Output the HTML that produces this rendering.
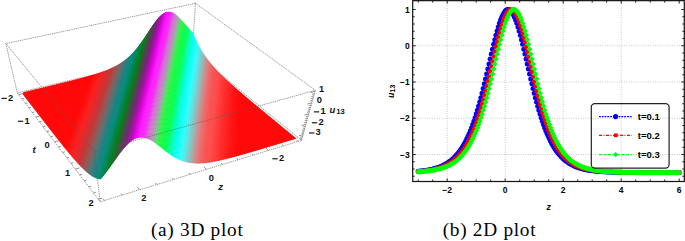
<!DOCTYPE html>
<html><head><meta charset="utf-8"><style>
html,body{margin:0;padding:0;background:#fff;}
body{width:685px;height:241px;overflow:hidden;}
svg{display:block;}
</style></head><body>
<svg width="685" height="241" viewBox="0 0 685 241">
<g><line x1="195.42" y1="3.29" x2="192.43" y2="51.17" stroke="#5a5a5a" stroke-width="0.6" stroke-dasharray="1.4 0.8"/>
<line x1="17.31" y1="92.91" x2="192.43" y2="51.17" stroke="#5a5a5a" stroke-width="0.6" stroke-dasharray="1.4 0.8"/>
<line x1="301.60" y1="140.33" x2="192.43" y2="51.17" stroke="#5a5a5a" stroke-width="0.6" stroke-dasharray="1.4 0.8"/></g>
<g><path d="M24.11,92.38L23.34,92.56L22.77,93.71L23.19,94.25Z" fill="#ff0000" stroke="#ff0000" stroke-width="0.5"/>
<path d="M24.88,92.19L24.11,92.38L23.19,94.25L23.60,94.79Z" fill="#ff0000" stroke="#ff0000" stroke-width="0.5"/>
<path d="M25.64,92.01L24.88,92.19L23.60,94.79L24.02,95.33Z" fill="#ff0000" stroke="#ff0000" stroke-width="0.5"/>
<path d="M26.41,91.83L25.64,92.01L24.02,95.33L24.44,95.88Z" fill="#ff0000" stroke="#ff0000" stroke-width="0.5"/>
<path d="M27.18,91.64L26.41,91.83L24.44,95.88L24.86,96.42Z" fill="#ff0000" stroke="#ff0000" stroke-width="0.5"/>
<path d="M27.94,91.46L27.18,91.64L24.86,96.42L25.28,96.96Z" fill="#ff0000" stroke="#ff0000" stroke-width="0.5"/>
<path d="M28.70,91.28L27.94,91.46L25.28,96.96L25.70,97.51Z" fill="#ff0000" stroke="#ff0000" stroke-width="0.5"/>
<path d="M29.47,91.09L28.70,91.28L25.70,97.51L26.12,98.06Z" fill="#ff0000" stroke="#ff0000" stroke-width="0.5"/>
<path d="M30.23,90.91L29.47,91.09L26.12,98.06L26.54,98.60Z" fill="#ff0000" stroke="#ff0000" stroke-width="0.5"/>
<path d="M30.99,90.73L30.23,90.91L26.54,98.60L26.97,99.15Z" fill="#ff0000" stroke="#ff0000" stroke-width="0.5"/>
<path d="M31.76,90.54L30.99,90.73L26.97,99.15L27.39,99.70Z" fill="#ff0000" stroke="#ff0000" stroke-width="0.5"/>
<path d="M32.52,90.36L31.76,90.54L27.39,99.70L27.81,100.26Z" fill="#ff0000" stroke="#ff0000" stroke-width="0.5"/>
<path d="M33.28,90.18L32.52,90.36L27.81,100.26L28.24,100.81Z" fill="#ff0000" stroke="#ff0000" stroke-width="0.5"/>
<path d="M34.04,90.00L33.28,90.18L28.24,100.81L28.67,101.36Z" fill="#ff0000" stroke="#ff0000" stroke-width="0.5"/>
<path d="M34.80,89.81L34.04,90.00L28.67,101.36L29.10,101.92Z" fill="#ff0000" stroke="#ff0000" stroke-width="0.5"/>
<path d="M35.56,89.63L34.80,89.81L29.10,101.92L29.53,102.47Z" fill="#ff0000" stroke="#ff0000" stroke-width="0.5"/>
<path d="M36.32,89.45L35.56,89.63L29.53,102.47L29.96,103.03Z" fill="#ff0000" stroke="#ff0000" stroke-width="0.5"/>
<path d="M37.07,89.27L36.32,89.45L29.96,103.03L30.39,103.59Z" fill="#ff0000" stroke="#ff0000" stroke-width="0.5"/>
<path d="M37.83,89.09L37.07,89.27L30.39,103.59L30.82,104.15Z" fill="#ff0000" stroke="#ff0000" stroke-width="0.5"/>
<path d="M38.59,88.90L37.83,89.09L30.82,104.15L31.25,104.71Z" fill="#ff0000" stroke="#ff0000" stroke-width="0.5"/>
<path d="M39.34,88.72L38.59,88.90L31.25,104.71L31.68,105.28Z" fill="#ff0000" stroke="#ff0000" stroke-width="0.5"/>
<path d="M40.10,88.54L39.34,88.72L31.68,105.28L32.12,105.84Z" fill="#ff0000" stroke="#ff0000" stroke-width="0.5"/>
<path d="M40.85,88.36L40.10,88.54L32.12,105.84L32.56,106.40Z" fill="#ff0000" stroke="#ff0000" stroke-width="0.5"/>
<path d="M41.61,88.18L40.85,88.36L32.56,106.40L32.99,106.97Z" fill="#ff0000" stroke="#ff0000" stroke-width="0.5"/>
<path d="M42.36,88.00L41.61,88.18L32.99,106.97L33.43,107.54Z" fill="#ff0000" stroke="#ff0000" stroke-width="0.5"/>
<path d="M43.12,87.82L42.36,88.00L33.43,107.54L33.87,108.11Z" fill="#ff0000" stroke="#ff0000" stroke-width="0.5"/>
<path d="M43.87,87.63L43.12,87.82L33.87,108.11L34.31,108.68Z" fill="#ff0000" stroke="#ff0000" stroke-width="0.5"/>
<path d="M44.62,87.45L43.87,87.63L34.31,108.68L34.75,109.25Z" fill="#ff0000" stroke="#ff0000" stroke-width="0.5"/>
<path d="M45.37,87.27L44.62,87.45L34.75,109.25L35.19,109.82Z" fill="#ff0000" stroke="#ff0000" stroke-width="0.5"/>
<path d="M46.12,87.09L45.37,87.27L35.19,109.82L35.63,110.39Z" fill="#ff0000" stroke="#ff0000" stroke-width="0.5"/>
<path d="M46.87,86.91L46.12,87.09L35.63,110.39L36.08,110.97Z" fill="#ff0000" stroke="#ff0000" stroke-width="0.5"/>
<path d="M47.62,86.73L46.87,86.91L36.08,110.97L36.52,111.54Z" fill="#ff0000" stroke="#ff0000" stroke-width="0.5"/>
<path d="M48.37,86.55L47.62,86.73L36.52,111.54L36.97,112.12Z" fill="#ff0000" stroke="#ff0000" stroke-width="0.5"/>
<path d="M49.12,86.37L48.37,86.55L36.97,112.12L37.41,112.70Z" fill="#ff0000" stroke="#ff0000" stroke-width="0.5"/>
<path d="M49.87,86.19L49.12,86.37L37.41,112.70L37.86,113.28Z" fill="#ff0000" stroke="#ff0000" stroke-width="0.5"/>
<path d="M50.62,86.00L49.87,86.19L37.86,113.28L38.31,113.86Z" fill="#ff0000" stroke="#ff0000" stroke-width="0.5"/>
<path d="M51.36,85.82L50.62,86.00L38.31,113.86L38.76,114.44Z" fill="#ff0000" stroke="#ff0000" stroke-width="0.5"/>
<path d="M52.11,85.64L51.36,85.82L38.76,114.44L39.21,115.03Z" fill="#ff0000" stroke="#ff0000" stroke-width="0.5"/>
<path d="M52.85,85.46L52.11,85.64L39.21,115.03L39.66,115.61Z" fill="#ff0000" stroke="#ff0000" stroke-width="0.5"/>
<path d="M53.60,85.28L52.85,85.46L39.66,115.61L40.11,116.20Z" fill="#ff0000" stroke="#ff0000" stroke-width="0.5"/>
<path d="M54.34,85.10L53.60,85.28L40.11,116.20L40.57,116.78Z" fill="#ff0000" stroke="#ff0000" stroke-width="0.5"/>
<path d="M55.09,84.92L54.34,85.10L40.57,116.78L41.02,117.37Z" fill="#ff0000" stroke="#ff0000" stroke-width="0.5"/>
<path d="M55.83,84.74L55.09,84.92L41.02,117.37L41.48,117.96Z" fill="#ff0000" stroke="#ff0000" stroke-width="0.5"/>
<path d="M56.57,84.56L55.83,84.74L41.48,117.96L41.94,118.55Z" fill="#ff0000" stroke="#ff0000" stroke-width="0.5"/>
<path d="M57.32,84.38L56.57,84.56L41.94,118.55L42.39,119.14Z" fill="#ff0000" stroke="#ff0000" stroke-width="0.5"/>
<path d="M58.06,84.19L57.32,84.38L42.39,119.14L42.85,119.74Z" fill="#ff0000" stroke="#ff0000" stroke-width="0.5"/>
<path d="M58.80,84.01L58.06,84.19L42.85,119.74L43.31,120.33Z" fill="#ff0000" stroke="#ff0000" stroke-width="0.5"/>
<path d="M59.54,83.83L58.80,84.01L43.31,120.33L43.77,120.93Z" fill="#ff0000" stroke="#ff0000" stroke-width="0.5"/>
<path d="M60.28,83.65L59.54,83.83L43.77,120.93L44.24,121.52Z" fill="#ff0000" stroke="#ff0000" stroke-width="0.5"/>
<path d="M61.02,83.47L60.28,83.65L44.24,121.52L44.70,122.12Z" fill="#ff0000" stroke="#ff0000" stroke-width="0.5"/>
<path d="M61.76,83.29L61.02,83.47L44.70,122.12L45.16,122.72Z" fill="#ff0000" stroke="#ff0000" stroke-width="0.5"/>
<path d="M62.50,83.11L61.76,83.29L45.16,122.72L45.63,123.32Z" fill="#ff0000" stroke="#ff0000" stroke-width="0.5"/>
<path d="M63.23,82.92L62.50,83.11L45.63,123.32L46.09,123.92Z" fill="#ff0000" stroke="#ff0000" stroke-width="0.5"/>
<path d="M63.97,82.74L63.23,82.92L46.09,123.92L46.56,124.52Z" fill="#ff0000" stroke="#ff0000" stroke-width="0.5"/>
<path d="M64.71,82.56L63.97,82.74L46.56,124.52L47.03,125.13Z" fill="#ff0000" stroke="#ff0000" stroke-width="0.5"/>
<path d="M65.44,82.38L64.71,82.56L47.03,125.13L47.50,125.73Z" fill="#ff0000" stroke="#ff0000" stroke-width="0.5"/>
<path d="M66.18,82.20L65.44,82.38L47.50,125.73L47.97,126.34Z" fill="#ff0000" stroke="#ff0000" stroke-width="0.5"/>
<path d="M66.91,82.01L66.18,82.20L47.97,126.34L48.44,126.94Z" fill="#ff0000" stroke="#ff0000" stroke-width="0.5"/>
<path d="M67.65,81.83L66.91,82.01L48.44,126.94L48.91,127.55Z" fill="#ff0000" stroke="#ff0000" stroke-width="0.5"/>
<path d="M68.38,81.65L67.65,81.83L48.91,127.55L49.39,128.16Z" fill="#ff0000" stroke="#ff0000" stroke-width="0.5"/>
<path d="M69.11,81.46L68.38,81.65L49.39,128.16L49.86,128.77Z" fill="#ff0000" stroke="#ff0000" stroke-width="0.5"/>
<path d="M69.84,81.28L69.11,81.46L49.86,128.77L50.34,129.38Z" fill="#ff0000" stroke="#ff0000" stroke-width="0.5"/>
<path d="M70.58,81.10L69.84,81.28L50.34,129.38L50.81,129.99Z" fill="#ff0000" stroke="#ff0000" stroke-width="0.5"/>
<path d="M71.31,80.91L70.58,81.10L50.81,129.99L51.29,130.61Z" fill="#ff0000" stroke="#ff0000" stroke-width="0.5"/>
<path d="M72.04,80.73L71.31,80.91L51.29,130.61L51.77,131.22Z" fill="#ff0000" stroke="#ff0000" stroke-width="0.5"/>
<path d="M72.77,80.54L72.04,80.73L51.77,131.22L52.25,131.83Z" fill="#ff0000" stroke="#ff0000" stroke-width="0.5"/>
<path d="M73.50,80.36L72.77,80.54L52.25,131.83L52.73,132.45Z" fill="#ff0000" stroke="#ff0000" stroke-width="0.5"/>
<path d="M74.23,80.17L73.50,80.36L52.73,132.45L53.21,133.07Z" fill="#ff0000" stroke="#ff0000" stroke-width="0.5"/>
<path d="M74.95,79.98L74.23,80.17L53.21,133.07L53.70,133.68Z" fill="#ff0000" stroke="#ff0000" stroke-width="0.5"/>
<path d="M75.68,79.80L74.95,79.98L53.70,133.68L54.18,134.30Z" fill="#ff0000" stroke="#ff0000" stroke-width="0.5"/>
<path d="M76.41,79.61L75.68,79.80L54.18,134.30L54.67,134.92Z" fill="#ff0000" stroke="#ff0000" stroke-width="0.5"/>
<path d="M77.13,79.42L76.41,79.61L54.67,134.92L55.15,135.54Z" fill="#ff0000" stroke="#ff0000" stroke-width="0.5"/>
<path d="M77.86,79.23L77.13,79.42L55.15,135.54L55.64,136.16Z" fill="#ff0000" stroke="#ff0000" stroke-width="0.5"/>
<path d="M78.59,79.04L77.86,79.23L55.64,136.16L56.13,136.79Z" fill="#ff0000" stroke="#ff0000" stroke-width="0.5"/>
<path d="M79.31,78.85L78.59,79.04L56.13,136.79L56.62,137.41Z" fill="#ff0000" stroke="#ff0000" stroke-width="0.5"/>
<path d="M80.03,78.66L79.31,78.85L56.62,137.41L57.11,138.03Z" fill="#ff0000" stroke="#ff0000" stroke-width="0.5"/>
<path d="M80.76,78.47L80.03,78.66L57.11,138.03L57.60,138.66Z" fill="#ff0000" stroke="#ff0000" stroke-width="0.5"/>
<path d="M81.48,78.28L80.76,78.47L57.60,138.66L58.09,139.28Z" fill="#ff0000" stroke="#ff0000" stroke-width="0.5"/>
<path d="M82.20,78.09L81.48,78.28L58.09,139.28L58.59,139.91Z" fill="#ff0000" stroke="#ff0000" stroke-width="0.5"/>
<path d="M82.92,77.89L82.20,78.09L58.59,139.91L59.08,140.53Z" fill="#ff0000" stroke="#ff0000" stroke-width="0.5"/>
<path d="M83.64,77.70L82.92,77.89L59.08,140.53L59.58,141.16Z" fill="#ff0000" stroke="#ff0000" stroke-width="0.5"/>
<path d="M84.36,77.50L83.64,77.70L59.58,141.16L60.07,141.79Z" fill="#ff0000" stroke="#ff0000" stroke-width="0.5"/>
<path d="M85.08,77.31L84.36,77.50L60.07,141.79L60.57,142.41Z" fill="#ff0000" stroke="#ff0000" stroke-width="0.5"/>
<path d="M85.80,77.11L85.08,77.31L60.57,142.41L61.07,143.04Z" fill="#ff0000" stroke="#ff0000" stroke-width="0.5"/>
<path d="M86.52,76.91L85.80,77.11L61.07,143.04L61.57,143.67Z" fill="#ff0000" stroke="#ff0000" stroke-width="0.5"/>
<path d="M87.24,76.71L86.52,76.91L61.57,143.67L62.07,144.30Z" fill="#ff0000" stroke="#ff0000" stroke-width="0.5"/>
<path d="M87.96,76.51L87.24,76.71L62.07,144.30L62.57,144.92Z" fill="#ff0000" stroke="#ff0000" stroke-width="0.5"/>
<path d="M88.67,76.31L87.96,76.51L62.57,144.92L63.08,145.55Z" fill="#ff0000" stroke="#ff0000" stroke-width="0.5"/>
<path d="M89.39,76.10L88.67,76.31L63.08,145.55L63.58,146.18Z" fill="#ff0000" stroke="#ff0000" stroke-width="0.5"/>
<path d="M90.11,75.90L89.39,76.10L63.58,146.18L64.09,146.81Z" fill="#ff0000" stroke="#ff0000" stroke-width="0.5"/>
<path d="M90.82,75.69L90.11,75.90L64.09,146.81L64.59,147.44Z" fill="#ff0000" stroke="#ff0000" stroke-width="0.5"/>
<path d="M91.53,75.48L90.82,75.69L64.59,147.44L65.10,148.06Z" fill="#ff0000" stroke="#ff0000" stroke-width="0.5"/>
<path d="M92.25,75.27L91.53,75.48L65.10,148.06L65.61,148.69Z" fill="#ff0000" stroke="#ff0000" stroke-width="0.5"/>
<path d="M92.96,75.06L92.25,75.27L65.61,148.69L66.12,149.32Z" fill="#ff0101" stroke="#ff0101" stroke-width="0.5"/>
<path d="M93.67,74.84L92.96,75.06L66.12,149.32L66.63,149.94Z" fill="#fe0404" stroke="#fe0404" stroke-width="0.5"/>
<path d="M94.38,74.63L93.67,74.84L66.63,149.94L67.14,150.57Z" fill="#fe0606" stroke="#fe0606" stroke-width="0.5"/>
<path d="M95.10,74.41L94.38,74.63L67.14,150.57L67.65,151.20Z" fill="#fd0808" stroke="#fd0808" stroke-width="0.5"/>
<path d="M95.81,74.19L95.10,74.41L67.65,151.20L68.16,151.82Z" fill="#fd0a0a" stroke="#fd0a0a" stroke-width="0.5"/>
<path d="M96.51,73.96L95.81,74.19L68.16,151.82L68.68,152.44Z" fill="#fd0c0c" stroke="#fd0c0c" stroke-width="0.5"/>
<path d="M97.22,73.74L96.51,73.96L68.68,152.44L69.19,153.07Z" fill="#fc0e0e" stroke="#fc0e0e" stroke-width="0.5"/>
<path d="M97.93,73.51L97.22,73.74L69.19,153.07L69.71,153.69Z" fill="#fc1010" stroke="#fc1010" stroke-width="0.5"/>
<path d="M98.64,73.28L97.93,73.51L69.71,153.69L70.23,154.31Z" fill="#fb1212" stroke="#fb1212" stroke-width="0.5"/>
<path d="M99.35,73.04L98.64,73.28L70.23,154.31L70.74,154.93Z" fill="#fb1414" stroke="#fb1414" stroke-width="0.5"/>
<path d="M100.05,72.80L99.35,73.04L70.74,154.93L71.26,155.54Z" fill="#fb1616" stroke="#fb1616" stroke-width="0.5"/>
<path d="M100.76,72.56L100.05,72.80L71.26,155.54L71.78,156.16Z" fill="#fa1818" stroke="#fa1818" stroke-width="0.5"/>
<path d="M101.46,72.32L100.76,72.56L71.78,156.16L72.30,156.77Z" fill="#f81a1a" stroke="#f81a1a" stroke-width="0.5"/>
<path d="M102.17,72.07L101.46,72.32L72.30,156.77L72.82,157.38Z" fill="#f61b1b" stroke="#f61b1b" stroke-width="0.5"/>
<path d="M102.87,71.82L102.17,72.07L72.82,157.38L73.35,157.99Z" fill="#f31c1c" stroke="#f31c1c" stroke-width="0.5"/>
<path d="M103.58,71.56L102.87,71.82L73.35,157.99L73.87,158.60Z" fill="#f11e1e" stroke="#f11e1e" stroke-width="0.5"/>
<path d="M104.28,71.30L103.58,71.56L73.87,158.60L74.39,159.20Z" fill="#ed1f20" stroke="#ed1f20" stroke-width="0.5"/>
<path d="M104.98,71.04L104.28,71.30L74.39,159.20L74.92,159.81Z" fill="#e92122" stroke="#e92122" stroke-width="0.5"/>
<path d="M105.68,70.77L104.98,71.04L74.92,159.81L75.44,160.40Z" fill="#e52225" stroke="#e52225" stroke-width="0.5"/>
<path d="M106.38,70.50L105.68,70.77L75.44,160.40L75.97,161.00Z" fill="#e12427" stroke="#e12427" stroke-width="0.5"/>
<path d="M107.08,70.22L106.38,70.50L75.97,161.00L76.50,161.59Z" fill="#dc262a" stroke="#dc262a" stroke-width="0.5"/>
<path d="M107.78,69.94L107.08,70.22L76.50,161.59L77.03,162.18Z" fill="#d8272c" stroke="#d8272c" stroke-width="0.5"/>
<path d="M108.48,69.65L107.78,69.94L77.03,162.18L77.55,162.76Z" fill="#d4292e" stroke="#d4292e" stroke-width="0.5"/>
<path d="M109.18,69.35L108.48,69.65L77.55,162.76L78.08,163.34Z" fill="#d02b2e" stroke="#d02b2e" stroke-width="0.5"/>
<path d="M109.87,69.05L109.18,69.35L78.08,163.34L78.61,163.92Z" fill="#cc2c2f" stroke="#cc2c2f" stroke-width="0.5"/>
<path d="M110.57,68.74L109.87,69.05L78.61,163.92L79.14,164.49Z" fill="#c82e30" stroke="#c82e30" stroke-width="0.5"/>
<path d="M111.27,68.43L110.57,68.74L79.14,164.49L79.68,165.06Z" fill="#c33031" stroke="#c33031" stroke-width="0.5"/>
<path d="M111.96,68.11L111.27,68.43L79.68,165.06L80.21,165.62Z" fill="#bf3132" stroke="#bf3132" stroke-width="0.5"/>
<path d="M112.66,67.78L111.96,68.11L80.21,165.62L80.74,166.17Z" fill="#bb3535" stroke="#bb3535" stroke-width="0.5"/>
<path d="M113.35,67.45L112.66,67.78L80.74,166.17L81.27,166.72Z" fill="#b63838" stroke="#b63838" stroke-width="0.5"/>
<path d="M114.04,67.10L113.35,67.45L81.27,166.72L81.81,167.27Z" fill="#b13c3c" stroke="#b13c3c" stroke-width="0.5"/>
<path d="M114.74,66.75L114.04,67.10L81.81,167.27L82.34,167.80Z" fill="#ac4040" stroke="#ac4040" stroke-width="0.5"/>
<path d="M115.43,66.39L114.74,66.75L82.34,167.80L82.88,168.33Z" fill="#a74444" stroke="#a74444" stroke-width="0.5"/>
<path d="M116.12,66.03L115.43,66.39L82.88,168.33L83.41,168.85Z" fill="#a24747" stroke="#a24747" stroke-width="0.5"/>
<path d="M116.81,65.65L116.12,66.03L83.41,168.85L83.95,169.37Z" fill="#9d4b4b" stroke="#9d4b4b" stroke-width="0.5"/>
<path d="M117.50,65.26L116.81,65.65L83.95,169.37L84.49,169.87Z" fill="#984f4f" stroke="#984f4f" stroke-width="0.5"/>
<path d="M118.19,64.86L117.50,65.26L84.49,169.87L85.03,170.37Z" fill="#915353" stroke="#915353" stroke-width="0.5"/>
<path d="M118.88,64.46L118.19,64.86L85.03,170.37L85.56,170.86Z" fill="#895656" stroke="#895656" stroke-width="0.5"/>
<path d="M119.57,64.04L118.88,64.46L85.56,170.86L86.10,171.34Z" fill="#825a5a" stroke="#825a5a" stroke-width="0.5"/>
<path d="M120.26,63.61L119.57,64.04L86.10,171.34L86.64,171.81Z" fill="#7a5e5e" stroke="#7a5e5e" stroke-width="0.5"/>
<path d="M120.94,63.17L120.26,63.61L86.64,171.81L87.18,172.27Z" fill="#736262" stroke="#736262" stroke-width="0.5"/>
<path d="M121.63,62.71L120.94,63.17L87.18,172.27L87.72,172.72Z" fill="#6b6565" stroke="#6b6565" stroke-width="0.5"/>
<path d="M122.32,62.25L121.63,62.71L87.72,172.72L88.26,173.16Z" fill="#646969" stroke="#646969" stroke-width="0.5"/>
<path d="M123.00,61.77L122.32,62.25L88.26,173.16L88.80,173.59Z" fill="#5c6d6d" stroke="#5c6d6d" stroke-width="0.5"/>
<path d="M123.69,61.27L123.00,61.77L88.80,173.59L89.34,174.00Z" fill="#556f6f" stroke="#556f6f" stroke-width="0.5"/>
<path d="M124.37,60.77L123.69,61.27L89.34,174.00L89.88,174.40Z" fill="#4e7171" stroke="#4e7171" stroke-width="0.5"/>
<path d="M125.06,60.24L124.37,60.77L89.88,174.40L90.42,174.79Z" fill="#477373" stroke="#477373" stroke-width="0.5"/>
<path d="M125.74,59.71L125.06,60.24L90.42,174.79L90.97,175.17Z" fill="#407575" stroke="#407575" stroke-width="0.5"/>
<path d="M126.43,59.16L125.74,59.71L90.97,175.17L91.51,175.53Z" fill="#397777" stroke="#397777" stroke-width="0.5"/>
<path d="M127.11,58.59L126.43,59.16L91.51,175.53L92.05,175.88Z" fill="#327979" stroke="#327979" stroke-width="0.5"/>
<path d="M127.79,58.01L127.11,58.59L92.05,175.88L92.59,176.21Z" fill="#2b7b7b" stroke="#2b7b7b" stroke-width="0.5"/>
<path d="M128.48,57.41L127.79,58.01L92.59,176.21L93.14,176.53Z" fill="#247d7d" stroke="#247d7d" stroke-width="0.5"/>
<path d="M129.16,56.79L128.48,57.41L93.14,176.53L93.68,176.83Z" fill="#1d7f7f" stroke="#1d7f7f" stroke-width="0.5"/>
<path d="M129.84,56.15L129.16,56.79L93.68,176.83L94.23,177.12Z" fill="#168181" stroke="#168181" stroke-width="0.5"/>
<path d="M130.53,55.50L129.84,56.15L94.23,177.12L94.77,177.39Z" fill="#128381" stroke="#128381" stroke-width="0.5"/>
<path d="M131.21,54.83L130.53,55.50L94.77,177.39L95.32,177.64Z" fill="#0f8480" stroke="#0f8480" stroke-width="0.5"/>
<path d="M131.89,54.14L131.21,54.83L95.32,177.64L95.86,177.87Z" fill="#0d867e" stroke="#0d867e" stroke-width="0.5"/>
<path d="M132.57,53.43L131.89,54.14L95.86,177.87L96.41,178.09Z" fill="#0a877d" stroke="#0a877d" stroke-width="0.5"/>
<path d="M133.26,52.70L132.57,53.43L96.41,178.09L96.95,178.29Z" fill="#07897b" stroke="#07897b" stroke-width="0.5"/>
<path d="M133.94,51.95L133.26,52.70L96.95,178.29L97.50,178.47Z" fill="#048a7a" stroke="#048a7a" stroke-width="0.5"/>
<path d="M134.62,51.19L133.94,51.95L97.50,178.47L98.05,178.63Z" fill="#018b79" stroke="#018b79" stroke-width="0.5"/>
<path d="M135.31,50.40L134.62,51.19L98.05,178.63L98.60,178.78Z" fill="#008b75" stroke="#008b75" stroke-width="0.5"/>
<path d="M135.99,49.59L135.31,50.40L98.60,178.78L99.15,178.90Z" fill="#008a70" stroke="#008a70" stroke-width="0.5"/>
<path d="M136.67,48.77L135.99,49.59L99.15,178.90L99.70,179.01Z" fill="#00896a" stroke="#00896a" stroke-width="0.5"/>
<path d="M137.36,47.92L136.67,48.77L99.70,179.01L100.25,179.10Z" fill="#008765" stroke="#008765" stroke-width="0.5"/>
<path d="M138.04,47.05L137.36,47.92L100.25,179.10L100.47,179.13L100.99,178.53Z" fill="#00865f" stroke="#00865f" stroke-width="0.5"/>
<path d="M138.73,46.16L138.04,47.05L100.99,178.53L101.84,177.51Z" fill="#008459" stroke="#008459" stroke-width="0.5"/>
<path d="M139.42,45.26L138.73,46.16L101.84,177.51L102.69,176.47Z" fill="#008354" stroke="#008354" stroke-width="0.5"/>
<path d="M140.10,44.33L139.42,45.26L102.69,176.47L103.55,175.40Z" fill="#00824e" stroke="#00824e" stroke-width="0.5"/>
<path d="M140.79,43.39L140.10,44.33L103.55,175.40L104.40,174.32Z" fill="#008246" stroke="#008246" stroke-width="0.5"/>
<path d="M141.48,42.43L140.79,43.39L104.40,174.32L105.26,173.22Z" fill="#00813f" stroke="#00813f" stroke-width="0.5"/>
<path d="M295.57,138.53L295.86,138.44L295.55,138.19Z" fill="#ff0000" stroke="#ff0000" stroke-width="0.5"/>
<path d="M142.17,41.45L141.48,42.43L105.26,173.22L106.11,172.11Z" fill="#008137" stroke="#008137" stroke-width="0.5"/>
<path d="M294.84,138.75L295.57,138.53L295.55,138.19L294.77,137.55Z" fill="#ff0000" stroke="#ff0000" stroke-width="0.5"/>
<path d="M142.86,40.46L142.17,41.45L106.11,172.11L106.97,170.97Z" fill="#008130" stroke="#008130" stroke-width="0.5"/>
<path d="M294.12,138.97L294.84,138.75L294.77,137.55L293.99,136.91Z" fill="#ff0000" stroke="#ff0000" stroke-width="0.5"/>
<path d="M143.55,39.45L142.86,40.46L106.97,170.97L107.82,169.82Z" fill="#008128" stroke="#008128" stroke-width="0.5"/>
<path d="M293.39,139.19L294.12,138.97L293.99,136.91L293.22,136.27Z" fill="#ff0000" stroke="#ff0000" stroke-width="0.5"/>
<path d="M144.25,38.43L143.55,39.45L107.82,169.82L108.68,168.65Z" fill="#008021" stroke="#008021" stroke-width="0.5"/>
<path d="M292.66,139.41L293.39,139.19L293.22,136.27L292.44,135.64Z" fill="#ff0000" stroke="#ff0000" stroke-width="0.5"/>
<path d="M144.94,37.39L144.25,38.43L108.68,168.65L109.54,167.47Z" fill="#008019" stroke="#008019" stroke-width="0.5"/>
<path d="M291.93,139.63L292.66,139.41L292.44,135.64L291.67,135.00Z" fill="#ff0000" stroke="#ff0000" stroke-width="0.5"/>
<path d="M145.64,36.34L144.94,37.39L109.54,167.47L110.40,166.28Z" fill="#027e15" stroke="#027e15" stroke-width="0.5"/>
<path d="M291.20,139.85L291.93,139.63L291.67,135.00L290.90,134.37Z" fill="#ff0000" stroke="#ff0000" stroke-width="0.5"/>
<path d="M146.33,35.29L145.64,36.34L110.40,166.28L111.26,165.08Z" fill="#09791a" stroke="#09791a" stroke-width="0.5"/>
<path d="M290.48,140.07L291.20,139.85L290.90,134.37L290.13,133.74Z" fill="#ff0000" stroke="#ff0000" stroke-width="0.5"/>
<path d="M147.03,34.23L146.33,35.29L111.26,165.08L112.12,163.86Z" fill="#10731e" stroke="#10731e" stroke-width="0.5"/>
<path d="M289.75,140.29L290.48,140.07L290.13,133.74L289.37,133.11Z" fill="#ff0000" stroke="#ff0000" stroke-width="0.5"/>
<path d="M147.73,33.16L147.03,34.23L112.12,163.86L112.99,162.64Z" fill="#166e23" stroke="#166e23" stroke-width="0.5"/>
<path d="M289.01,140.51L289.75,140.29L289.37,133.11L288.61,132.48Z" fill="#ff0000" stroke="#ff0000" stroke-width="0.5"/>
<path d="M148.43,32.08L147.73,33.16L112.99,162.64L113.86,161.42Z" fill="#1d6928" stroke="#1d6928" stroke-width="0.5"/>
<path d="M288.28,140.73L289.01,140.51L288.61,132.48L287.84,131.86Z" fill="#ff0000" stroke="#ff0000" stroke-width="0.5"/>
<path d="M149.14,31.01L148.43,32.08L113.86,161.42L114.73,160.19Z" fill="#24632c" stroke="#24632c" stroke-width="0.5"/>
<path d="M287.55,140.95L288.28,140.73L287.84,131.86L287.08,131.23Z" fill="#ff0000" stroke="#ff0000" stroke-width="0.5"/>
<path d="M149.84,29.93L149.14,31.01L114.73,160.19L115.60,158.96Z" fill="#2b5e31" stroke="#2b5e31" stroke-width="0.5"/>
<path d="M286.82,141.17L287.55,140.95L287.08,131.23L286.33,130.61Z" fill="#ff0000" stroke="#ff0000" stroke-width="0.5"/>
<path d="M150.55,28.86L149.84,29.93L115.60,158.96L116.48,157.74Z" fill="#325835" stroke="#325835" stroke-width="0.5"/>
<path d="M286.09,141.40L286.82,141.17L286.33,130.61L285.57,129.99Z" fill="#ff0000" stroke="#ff0000" stroke-width="0.5"/>
<path d="M151.25,27.80L150.55,28.86L116.48,157.74L117.36,156.52Z" fill="#39533a" stroke="#39533a" stroke-width="0.5"/>
<path d="M285.35,141.62L286.09,141.40L285.57,129.99L284.81,129.37Z" fill="#ff0000" stroke="#ff0000" stroke-width="0.5"/>
<path d="M151.96,26.75L151.25,27.80L117.36,156.52L118.24,155.31Z" fill="#3f4d3f" stroke="#3f4d3f" stroke-width="0.5"/>
<path d="M284.62,141.84L285.35,141.62L284.81,129.37L284.06,128.75Z" fill="#ff0000" stroke="#ff0000" stroke-width="0.5"/>
<path d="M152.67,25.70L151.96,26.75L118.24,155.31L119.12,154.11Z" fill="#464846" stroke="#464846" stroke-width="0.5"/>
<path d="M283.88,142.06L284.62,141.84L284.06,128.75L283.31,128.13Z" fill="#ff0000" stroke="#ff0000" stroke-width="0.5"/>
<path d="M153.38,24.68L152.67,25.70L119.12,154.11L120.01,152.93Z" fill="#4c424c" stroke="#4c424c" stroke-width="0.5"/>
<path d="M283.15,142.28L283.88,142.06L283.31,128.13L282.56,127.51Z" fill="#ff0000" stroke="#ff0000" stroke-width="0.5"/>
<path d="M154.10,23.67L153.38,24.68L120.01,152.93L120.90,151.76Z" fill="#533d53" stroke="#533d53" stroke-width="0.5"/>
<path d="M282.41,142.50L283.15,142.28L282.56,127.51L281.81,126.90Z" fill="#ff0000" stroke="#ff0000" stroke-width="0.5"/>
<path d="M154.81,22.68L154.10,23.67L120.90,151.76L121.80,150.62Z" fill="#593859" stroke="#593859" stroke-width="0.5"/>
<path d="M281.68,142.73L282.41,142.50L281.81,126.90L281.07,126.28Z" fill="#ff0000" stroke="#ff0000" stroke-width="0.5"/>
<path d="M155.53,21.71L154.81,22.68L121.80,150.62L122.70,149.50Z" fill="#603260" stroke="#603260" stroke-width="0.5"/>
<path d="M280.94,142.95L281.68,142.73L281.07,126.28L280.32,125.67Z" fill="#ff0000" stroke="#ff0000" stroke-width="0.5"/>
<path d="M156.24,20.78L155.53,21.71L122.70,149.50L123.60,148.41Z" fill="#662d66" stroke="#662d66" stroke-width="0.5"/>
<path d="M280.20,143.17L280.94,142.95L280.32,125.67L279.58,125.06Z" fill="#ff0000" stroke="#ff0000" stroke-width="0.5"/>
<path d="M156.96,19.88L156.24,20.78L123.60,148.41L124.51,147.35Z" fill="#6d276d" stroke="#6d276d" stroke-width="0.5"/>
<path d="M279.46,143.39L280.20,143.17L279.58,125.06L278.84,124.45Z" fill="#ff0000" stroke="#ff0000" stroke-width="0.5"/>
<path d="M157.68,19.01L156.96,19.88L124.51,147.35L125.42,146.33Z" fill="#732273" stroke="#732273" stroke-width="0.5"/>
<path d="M278.72,143.62L279.46,143.39L278.84,124.45L278.10,123.84Z" fill="#ff0000" stroke="#ff0000" stroke-width="0.5"/>
<path d="M158.40,18.18L157.68,19.01L125.42,146.33L126.33,145.35Z" fill="#7b1d7b" stroke="#7b1d7b" stroke-width="0.5"/>
<path d="M277.99,143.84L278.72,143.62L278.10,123.84L277.36,123.24Z" fill="#ff0000" stroke="#ff0000" stroke-width="0.5"/>
<path d="M159.11,17.39L158.40,18.18L126.33,145.35L127.25,144.41Z" fill="#851885" stroke="#851885" stroke-width="0.5"/>
<path d="M277.25,144.06L277.99,143.84L277.36,123.24L276.63,122.63Z" fill="#ff0000" stroke="#ff0000" stroke-width="0.5"/>
<path d="M159.83,16.64L159.11,17.39L127.25,144.41L128.17,143.52Z" fill="#901490" stroke="#901490" stroke-width="0.5"/>
<path d="M276.50,144.28L277.25,144.06L276.63,122.63L275.90,122.03Z" fill="#ff0000" stroke="#ff0000" stroke-width="0.5"/>
<path d="M160.55,15.94L159.83,16.64L128.17,143.52L129.10,142.67Z" fill="#9a0f9a" stroke="#9a0f9a" stroke-width="0.5"/>
<path d="M275.76,144.51L276.50,144.28L275.90,122.03L275.16,121.42Z" fill="#ff0000" stroke="#ff0000" stroke-width="0.5"/>
<path d="M161.27,15.29L160.55,15.94L129.10,142.67L130.03,141.88Z" fill="#a40ba4" stroke="#a40ba4" stroke-width="0.5"/>
<path d="M275.02,144.73L275.76,144.51L275.16,121.42L274.43,120.82Z" fill="#ff0000" stroke="#ff0000" stroke-width="0.5"/>
<path d="M161.99,14.69L161.27,15.29L130.03,141.88L130.96,141.15Z" fill="#af07af" stroke="#af07af" stroke-width="0.5"/>
<path d="M274.28,144.95L275.02,144.73L274.43,120.82L273.71,120.22Z" fill="#ff0000" stroke="#ff0000" stroke-width="0.5"/>
<path d="M162.71,14.15L161.99,14.69L130.96,141.15L131.89,140.47Z" fill="#b902b9" stroke="#b902b9" stroke-width="0.5"/>
<path d="M273.53,145.18L274.28,144.95L273.71,120.22L272.98,119.62Z" fill="#ff0000" stroke="#ff0000" stroke-width="0.5"/>
<path d="M163.43,13.66L162.71,14.15L131.89,140.47L132.83,139.85Z" fill="#c300c3" stroke="#c300c3" stroke-width="0.5"/>
<path d="M272.79,145.40L273.53,145.18L272.98,119.62L272.25,119.03Z" fill="#ff0000" stroke="#ff0000" stroke-width="0.5"/>
<path d="M164.15,13.24L163.43,13.66L132.83,139.85L133.77,139.29Z" fill="#ce00ce" stroke="#ce00ce" stroke-width="0.5"/>
<path d="M272.05,145.62L272.79,145.40L272.25,119.03L271.53,118.43Z" fill="#ff0000" stroke="#ff0000" stroke-width="0.5"/>
<path d="M164.87,12.87L164.15,13.24L133.77,139.29L134.71,138.80Z" fill="#d800d8" stroke="#d800d8" stroke-width="0.5"/>
<path d="M271.30,145.85L272.05,145.62L271.53,118.43L270.81,117.83Z" fill="#ff0000" stroke="#ff0000" stroke-width="0.5"/>
<path d="M165.58,12.56L164.87,12.87L134.71,138.80L135.66,138.37Z" fill="#e200e2" stroke="#e200e2" stroke-width="0.5"/>
<path d="M270.56,146.07L271.30,145.85L270.81,117.83L270.09,117.24Z" fill="#ff0000" stroke="#ff0000" stroke-width="0.5"/>
<path d="M166.30,12.31L165.58,12.56L135.66,138.37L136.60,138.01Z" fill="#ed00ed" stroke="#ed00ed" stroke-width="0.5"/>
<path d="M269.81,146.30L270.56,146.07L270.09,117.24L269.37,116.65Z" fill="#ff0000" stroke="#ff0000" stroke-width="0.5"/>
<path d="M167.01,12.13L166.30,12.31L136.60,138.01L137.55,137.72Z" fill="#f304f3" stroke="#f304f3" stroke-width="0.5"/>
<path d="M269.06,146.52L269.81,146.30L269.37,116.65L268.65,116.06Z" fill="#ff0000" stroke="#ff0000" stroke-width="0.5"/>
<path d="M167.72,12.01L167.01,12.13L137.55,137.72L138.50,137.49Z" fill="#f80bf8" stroke="#f80bf8" stroke-width="0.5"/>
<path d="M268.31,146.74L269.06,146.52L268.65,116.06L267.94,115.47Z" fill="#ff0000" stroke="#ff0000" stroke-width="0.5"/>
<path d="M168.43,11.95L167.72,12.01L138.50,137.49L139.45,137.32Z" fill="#fd11fd" stroke="#fd11fd" stroke-width="0.5"/>
<path d="M267.57,146.97L268.31,146.74L267.94,115.47L267.23,114.88Z" fill="#ff0000" stroke="#ff0000" stroke-width="0.5"/>
<path d="M169.14,11.95L168.43,11.95L139.45,137.32L140.40,137.23Z" fill="#fe16fe" stroke="#fe16fe" stroke-width="0.5"/>
<path d="M266.82,147.19L267.57,146.97L267.23,114.88L266.51,114.29Z" fill="#ff0000" stroke="#ff0000" stroke-width="0.5"/>
<path d="M169.84,12.02L169.14,11.95L140.40,137.23L141.34,137.19Z" fill="#fc1afc" stroke="#fc1afc" stroke-width="0.5"/>
<path d="M266.07,147.42L266.82,147.19L266.51,114.29L265.80,113.70Z" fill="#ff0000" stroke="#ff0000" stroke-width="0.5"/>
<path d="M170.54,12.14L169.84,12.02L141.34,137.19L142.29,137.22Z" fill="#fa1efa" stroke="#fa1efa" stroke-width="0.5"/>
<path d="M265.32,147.64L266.07,147.42L265.80,113.70L265.10,113.12Z" fill="#ff0000" stroke="#ff0000" stroke-width="0.5"/>
<path d="M171.24,12.32L170.54,12.14L142.29,137.22L143.24,137.32Z" fill="#f821f8" stroke="#f821f8" stroke-width="0.5"/>
<path d="M264.57,147.86L265.32,147.64L265.10,113.12L264.39,112.53Z" fill="#ff0000" stroke="#ff0000" stroke-width="0.5"/>
<path d="M171.94,12.56L171.24,12.32L143.24,137.32L144.19,137.47Z" fill="#f625f6" stroke="#f625f6" stroke-width="0.5"/>
<path d="M263.82,148.09L264.57,147.86L264.39,112.53L263.68,111.95Z" fill="#ff0000" stroke="#ff0000" stroke-width="0.5"/>
<path d="M172.63,12.85L171.94,12.56L144.19,137.47L145.13,137.68Z" fill="#f22ef2" stroke="#f22ef2" stroke-width="0.5"/>
<path d="M263.06,148.31L263.82,148.09L263.68,111.95L262.98,111.37Z" fill="#ff0000" stroke="#ff0000" stroke-width="0.5"/>
<path d="M173.32,13.19L172.63,12.85L145.13,137.68L146.07,137.94Z" fill="#e940e9" stroke="#e940e9" stroke-width="0.5"/>
<path d="M262.31,148.54L263.06,148.31L262.98,111.37L262.28,110.79Z" fill="#ff0000" stroke="#ff0000" stroke-width="0.5"/>
<path d="M174.01,13.58L173.32,13.19L146.07,137.94L147.02,138.26Z" fill="#df53df" stroke="#df53df" stroke-width="0.5"/>
<path d="M261.56,148.76L262.31,148.54L262.28,110.79L261.58,110.21Z" fill="#ff0000" stroke="#ff0000" stroke-width="0.5"/>
<path d="M174.69,14.02L174.01,13.58L147.02,138.26L147.95,138.63Z" fill="#d665d6" stroke="#d665d6" stroke-width="0.5"/>
<path d="M260.81,148.98L261.56,148.76L261.58,110.21L260.88,109.63Z" fill="#ff0000" stroke="#ff0000" stroke-width="0.5"/>
<path d="M175.37,14.50L174.69,14.02L147.95,138.63L148.89,139.04Z" fill="#d06ed0" stroke="#d06ed0" stroke-width="0.5"/>
<path d="M260.05,149.21L260.81,148.98L260.88,109.63L260.18,109.05Z" fill="#ff0000" stroke="#ff0000" stroke-width="0.5"/>
<path d="M176.05,15.03L175.37,14.50L148.89,139.04L149.82,139.50Z" fill="#ca76ca" stroke="#ca76ca" stroke-width="0.5"/>
<path d="M259.30,149.43L260.05,149.21L260.18,109.05L259.49,108.48Z" fill="#ff0000" stroke="#ff0000" stroke-width="0.5"/>
<path d="M176.72,15.59L176.05,15.03L149.82,139.50L150.75,139.99Z" fill="#c47fc4" stroke="#c47fc4" stroke-width="0.5"/>
<path d="M258.54,149.66L259.30,149.43L259.49,108.48L258.80,107.90Z" fill="#ff0000" stroke="#ff0000" stroke-width="0.5"/>
<path d="M177.39,16.18L176.72,15.59L150.75,139.99L151.68,140.52Z" fill="#bc88bd" stroke="#bc88bd" stroke-width="0.5"/>
<path d="M257.78,149.88L258.54,149.66L258.80,107.90L258.10,107.33Z" fill="#ff0000" stroke="#ff0000" stroke-width="0.5"/>
<path d="M178.06,16.80L177.39,16.18L151.68,140.52L152.60,141.09Z" fill="#ad96b0" stroke="#ad96b0" stroke-width="0.5"/>
<path d="M257.03,150.10L257.78,149.88L258.10,107.33L257.41,106.75Z" fill="#ff0000" stroke="#ff0000" stroke-width="0.5"/>
<path d="M178.73,17.46L178.06,16.80L152.60,141.09L153.52,141.68Z" fill="#9da5a4" stroke="#9da5a4" stroke-width="0.5"/>
<path d="M256.27,150.33L257.03,150.10L257.41,106.75L256.72,106.18Z" fill="#ff0000" stroke="#ff0000" stroke-width="0.5"/>
<path d="M179.39,18.13L178.73,17.46L153.52,141.68L154.43,142.30Z" fill="#8eb397" stroke="#8eb397" stroke-width="0.5"/>
<path d="M255.51,150.55L256.27,150.33L256.72,106.18L256.04,105.61Z" fill="#ff0000" stroke="#ff0000" stroke-width="0.5"/>
<path d="M180.05,18.83L179.39,18.13L154.43,142.30L155.34,142.94Z" fill="#76c382" stroke="#76c382" stroke-width="0.5"/>
<path d="M254.75,150.77L255.51,150.55L256.04,105.61L255.35,105.04Z" fill="#ff0000" stroke="#ff0000" stroke-width="0.5"/>
<path d="M180.70,19.55L180.05,18.83L155.34,142.94L156.25,143.60Z" fill="#5dd56c" stroke="#5dd56c" stroke-width="0.5"/>
<path d="M253.99,151.00L254.75,150.77L255.35,105.04L254.67,104.47Z" fill="#ff0000" stroke="#ff0000" stroke-width="0.5"/>
<path d="M181.35,20.28L180.70,19.55L156.25,143.60L157.15,144.27Z" fill="#44e657" stroke="#44e657" stroke-width="0.5"/>
<path d="M253.23,151.22L253.99,151.00L254.67,104.47L253.98,103.90Z" fill="#ff0000" stroke="#ff0000" stroke-width="0.5"/>
<path d="M182.00,21.02L181.35,20.28L157.15,144.27L158.05,144.96Z" fill="#35ee4d" stroke="#35ee4d" stroke-width="0.5"/>
<path d="M252.47,151.44L253.23,151.22L253.98,103.90L253.30,103.33Z" fill="#ff0000" stroke="#ff0000" stroke-width="0.5"/>
<path d="M182.65,21.77L182.00,21.02L158.05,144.96L158.95,145.65Z" fill="#2bf148" stroke="#2bf148" stroke-width="0.5"/>
<path d="M251.71,151.67L252.47,151.44L253.30,103.33L252.62,102.77Z" fill="#ff0000" stroke="#ff0000" stroke-width="0.5"/>
<path d="M183.29,22.52L182.65,21.77L158.95,145.65L159.84,146.35Z" fill="#21f543" stroke="#21f543" stroke-width="0.5"/>
<path d="M250.95,151.89L251.71,151.67L252.62,102.77L251.95,102.20Z" fill="#ff0000" stroke="#ff0000" stroke-width="0.5"/>
<path d="M183.94,23.28L183.29,22.52L159.84,146.35L160.72,147.05Z" fill="#17f93e" stroke="#17f93e" stroke-width="0.5"/>
<path d="M250.19,152.11L250.95,151.89L251.95,102.20L251.27,101.63Z" fill="#ff0000" stroke="#ff0000" stroke-width="0.5"/>
<path d="M184.57,24.04L183.94,23.28L160.72,147.05L161.61,147.75Z" fill="#12fb3e" stroke="#12fb3e" stroke-width="0.5"/>
<path d="M249.43,152.33L250.19,152.11L251.27,101.63L250.60,101.07Z" fill="#ff0000" stroke="#ff0000" stroke-width="0.5"/>
<path d="M185.21,24.80L184.57,24.04L161.61,147.75L162.48,148.45Z" fill="#0efb42" stroke="#0efb42" stroke-width="0.5"/>
<path d="M248.66,152.55L249.43,152.33L250.60,101.07L249.92,100.51Z" fill="#ff0000" stroke="#ff0000" stroke-width="0.5"/>
<path d="M185.85,25.55L185.21,24.80L162.48,148.45L163.36,149.15Z" fill="#0bfc45" stroke="#0bfc45" stroke-width="0.5"/>
<path d="M247.90,152.78L248.66,152.55L249.92,100.51L249.25,99.94Z" fill="#ff0000" stroke="#ff0000" stroke-width="0.5"/>
<path d="M186.48,26.30L185.85,25.55L163.36,149.15L164.23,149.84Z" fill="#08fd48" stroke="#08fd48" stroke-width="0.5"/>
<path d="M247.13,153.00L247.90,152.78L249.25,99.94L248.58,99.38Z" fill="#ff0000" stroke="#ff0000" stroke-width="0.5"/>
<path d="M187.11,27.03L186.48,26.30L164.23,149.84L165.09,150.52Z" fill="#04fe4c" stroke="#04fe4c" stroke-width="0.5"/>
<path d="M246.37,153.22L247.13,153.00L248.58,99.38L247.91,98.82Z" fill="#ff0000" stroke="#ff0000" stroke-width="0.5"/>
<path d="M187.74,27.76L187.11,27.03L165.09,150.52L165.96,151.19Z" fill="#01ff4f" stroke="#01ff4f" stroke-width="0.5"/>
<path d="M245.60,153.44L246.37,153.22L247.91,98.82L247.25,98.26Z" fill="#ff0000" stroke="#ff0000" stroke-width="0.5"/>
<path d="M188.37,28.48L187.74,27.76L165.96,151.19L166.82,151.84Z" fill="#00ff5d" stroke="#00ff5d" stroke-width="0.5"/>
<path d="M244.84,153.66L245.60,153.44L247.25,98.26L246.58,97.70Z" fill="#ff0000" stroke="#ff0000" stroke-width="0.5"/>
<path d="M188.99,29.18L188.37,28.48L166.82,151.84L167.67,152.49Z" fill="#00ff6f" stroke="#00ff6f" stroke-width="0.5"/>
<path d="M244.07,153.88L244.84,153.66L246.58,97.70L245.92,97.14Z" fill="#ff0000" stroke="#ff0000" stroke-width="0.5"/>
<path d="M189.62,29.88L188.99,29.18L167.67,152.49L168.52,153.11Z" fill="#00ff81" stroke="#00ff81" stroke-width="0.5"/>
<path d="M243.30,154.10L244.07,153.88L245.92,97.14L245.26,96.58Z" fill="#ff0000" stroke="#ff0000" stroke-width="0.5"/>
<path d="M190.24,30.55L189.62,29.88L168.52,153.11L169.37,153.72Z" fill="#00ff93" stroke="#00ff93" stroke-width="0.5"/>
<path d="M242.53,154.31L243.30,154.10L245.26,96.58L244.60,96.02Z" fill="#ff0000" stroke="#ff0000" stroke-width="0.5"/>
<path d="M190.86,31.21L190.24,30.55L169.37,153.72L170.22,154.32Z" fill="#00ffa4" stroke="#00ffa4" stroke-width="0.5"/>
<path d="M241.77,154.53L242.53,154.31L244.60,96.02L243.94,95.46Z" fill="#ff0000" stroke="#ff0000" stroke-width="0.5"/>
<path d="M191.48,31.85L190.86,31.21L170.22,154.32L171.06,154.89Z" fill="#00ffb1" stroke="#00ffb1" stroke-width="0.5"/>
<path d="M241.00,154.75L241.77,154.53L243.94,95.46L243.28,94.90Z" fill="#ff0000" stroke="#ff0000" stroke-width="0.5"/>
<path d="M192.10,32.47L191.48,31.85L171.06,154.89L171.90,155.45Z" fill="#00ffbf" stroke="#00ffbf" stroke-width="0.5"/>
<path d="M240.23,154.97L241.00,154.75L243.28,94.90L242.62,94.35Z" fill="#ff0000" stroke="#ff0000" stroke-width="0.5"/>
<path d="M192.35,32.72L192.10,32.47L171.90,155.45L172.74,155.99L192.66,33.44Z" fill="#00ffcc" stroke="#00ffcc" stroke-width="0.5"/>
<path d="M239.46,155.18L240.23,154.97L242.62,94.35L241.97,93.79Z" fill="#ff0000" stroke="#ff0000" stroke-width="0.5"/>
<path d="M172.74,155.99L173.58,156.51L193.19,34.62L192.66,33.44Z" fill="#00ffd9" stroke="#00ffd9" stroke-width="0.5"/>
<path d="M238.69,155.40L239.46,155.18L241.97,93.79L241.32,93.23Z" fill="#ff0000" stroke="#ff0000" stroke-width="0.5"/>
<path d="M173.58,156.51L174.41,157.00L193.71,35.79L193.19,34.62Z" fill="#00ffe7" stroke="#00ffe7" stroke-width="0.5"/>
<path d="M237.91,155.61L238.69,155.40L241.32,93.23L240.66,92.68Z" fill="#ff0000" stroke="#ff0000" stroke-width="0.5"/>
<path d="M174.41,157.00L175.24,157.48L194.23,36.93L193.71,35.79Z" fill="#02fff1" stroke="#02fff1" stroke-width="0.5"/>
<path d="M237.14,155.83L237.91,155.61L240.66,92.68L240.01,92.12Z" fill="#ff0000" stroke="#ff0000" stroke-width="0.5"/>
<path d="M175.24,157.48L176.07,157.93L194.76,38.06L194.23,36.93Z" fill="#08fff3" stroke="#08fff3" stroke-width="0.5"/>
<path d="M236.37,156.04L237.14,155.83L240.01,92.12L239.37,91.56Z" fill="#ff0101" stroke="#ff0101" stroke-width="0.5"/>
<path d="M176.07,157.93L176.89,158.37L195.29,39.17L194.76,38.06Z" fill="#0efff5" stroke="#0efff5" stroke-width="0.5"/>
<path d="M235.60,156.25L236.37,156.04L239.37,91.56L238.72,91.01Z" fill="#ff0202" stroke="#ff0202" stroke-width="0.5"/>
<path d="M176.89,158.37L177.72,158.78L195.81,40.27L195.29,39.17Z" fill="#13fff7" stroke="#13fff7" stroke-width="0.5"/>
<path d="M234.82,156.46L235.60,156.25L238.72,91.01L238.07,90.45Z" fill="#ff0303" stroke="#ff0303" stroke-width="0.5"/>
<path d="M177.72,158.78L178.54,159.18L196.34,41.34L195.81,40.27Z" fill="#19fff9" stroke="#19fff9" stroke-width="0.5"/>
<path d="M234.05,156.67L234.82,156.46L238.07,90.45L237.43,89.89Z" fill="#ff0404" stroke="#ff0404" stroke-width="0.5"/>
<path d="M178.54,159.18L179.36,159.55L196.87,42.39L196.34,41.34Z" fill="#1ffffc" stroke="#1ffffc" stroke-width="0.5"/>
<path d="M233.27,156.88L234.05,156.67L237.43,89.89L236.79,89.34Z" fill="#ff0606" stroke="#ff0606" stroke-width="0.5"/>
<path d="M179.36,159.55L180.18,159.90L197.41,43.43L196.87,42.39Z" fill="#25fffe" stroke="#25fffe" stroke-width="0.5"/>
<path d="M232.50,157.09L233.27,156.88L236.79,89.34L236.15,88.78Z" fill="#ff0707" stroke="#ff0707" stroke-width="0.5"/>
<path d="M180.18,159.90L180.99,160.23L197.94,44.45L197.41,43.43Z" fill="#2dfcfc" stroke="#2dfcfc" stroke-width="0.5"/>
<path d="M231.72,157.29L232.50,157.09L236.15,88.78L235.51,88.22Z" fill="#ff0808" stroke="#ff0808" stroke-width="0.5"/>
<path d="M180.99,160.23L181.81,160.54L198.47,45.45L197.94,44.45Z" fill="#37f6f6" stroke="#37f6f6" stroke-width="0.5"/>
<path d="M230.95,157.50L231.72,157.29L235.51,88.22L234.87,87.67Z" fill="#ff0909" stroke="#ff0909" stroke-width="0.5"/>
<path d="M181.81,160.54L182.62,160.83L199.01,46.43L198.47,45.45Z" fill="#41f0f0" stroke="#41f0f0" stroke-width="0.5"/>
<path d="M230.17,157.70L230.95,157.50L234.87,87.67L234.24,87.11Z" fill="#ff0b0b" stroke="#ff0b0b" stroke-width="0.5"/>
<path d="M182.62,160.83L183.43,161.10L199.55,47.39L199.01,46.43Z" fill="#4bebeb" stroke="#4bebeb" stroke-width="0.5"/>
<path d="M229.39,157.90L230.17,157.70L234.24,87.11L233.60,86.55Z" fill="#ff0d0d" stroke="#ff0d0d" stroke-width="0.5"/>
<path d="M183.43,161.10L184.24,161.36L200.09,48.34L199.55,47.39Z" fill="#55e5e5" stroke="#55e5e5" stroke-width="0.5"/>
<path d="M228.61,158.10L229.39,157.90L233.60,86.55L232.97,85.99Z" fill="#ff0f0f" stroke="#ff0f0f" stroke-width="0.5"/>
<path d="M184.24,161.36L185.05,161.59L200.63,49.27L200.09,48.34Z" fill="#5fdfdf" stroke="#5fdfdf" stroke-width="0.5"/>
<path d="M227.83,158.30L228.61,158.10L232.97,85.99L232.34,85.43Z" fill="#ff1111" stroke="#ff1111" stroke-width="0.5"/>
<path d="M185.05,161.59L185.86,161.81L201.17,50.19L200.63,49.27Z" fill="#68d9d9" stroke="#68d9d9" stroke-width="0.5"/>
<path d="M227.05,158.50L227.83,158.30L232.34,85.43L231.71,84.87Z" fill="#ff1212" stroke="#ff1212" stroke-width="0.5"/>
<path d="M185.86,161.81L186.67,162.00L201.72,51.08L201.17,50.19Z" fill="#70d2d2" stroke="#70d2d2" stroke-width="0.5"/>
<path d="M226.28,158.70L227.05,158.50L231.71,84.87L231.08,84.31Z" fill="#ff1414" stroke="#ff1414" stroke-width="0.5"/>
<path d="M186.67,162.00L187.48,162.19L202.26,51.97L201.72,51.08Z" fill="#79cbcb" stroke="#79cbcb" stroke-width="0.5"/>
<path d="M225.50,158.89L226.28,158.70L231.08,84.31L230.45,83.75Z" fill="#ff1616" stroke="#ff1616" stroke-width="0.5"/>
<path d="M187.48,162.19L188.28,162.35L202.81,52.83L202.26,51.97Z" fill="#81c5c5" stroke="#81c5c5" stroke-width="0.5"/>
<path d="M224.71,159.08L225.50,158.89L230.45,83.75L229.83,83.18Z" fill="#ff1818" stroke="#ff1818" stroke-width="0.5"/>
<path d="M188.28,162.35L189.09,162.50L203.36,53.69L202.81,52.83Z" fill="#89bebe" stroke="#89bebe" stroke-width="0.5"/>
<path d="M223.93,159.27L224.71,159.08L229.83,83.18L229.20,82.62Z" fill="#ff1a1a" stroke="#ff1a1a" stroke-width="0.5"/>
<path d="M189.09,162.50L189.89,162.63L203.91,54.52L203.36,53.69Z" fill="#92b7b7" stroke="#92b7b7" stroke-width="0.5"/>
<path d="M223.15,159.46L223.93,159.27L229.20,82.62L228.58,82.05Z" fill="#ff1c1c" stroke="#ff1c1c" stroke-width="0.5"/>
<path d="M189.89,162.63L190.69,162.75L204.47,55.35L203.91,54.52Z" fill="#9bb0b0" stroke="#9bb0b0" stroke-width="0.5"/>
<path d="M222.37,159.64L223.15,159.46L228.58,82.05L227.96,81.49Z" fill="#ff1e1e" stroke="#ff1e1e" stroke-width="0.5"/>
<path d="M190.69,162.75L191.50,162.85L205.02,56.16L204.47,55.35Z" fill="#a4a8a8" stroke="#a4a8a8" stroke-width="0.5"/>
<path d="M221.59,159.82L222.37,159.64L227.96,81.49L227.34,80.92Z" fill="#ff2020" stroke="#ff2020" stroke-width="0.5"/>
<path d="M191.50,162.85L192.30,162.94L205.58,56.96L205.02,56.16Z" fill="#aea1a1" stroke="#aea1a1" stroke-width="0.5"/>
<path d="M220.80,160.00L221.59,159.82L227.34,80.92L226.72,80.35Z" fill="#ff2121" stroke="#ff2121" stroke-width="0.5"/>
<path d="M192.30,162.94L193.10,163.01L206.13,57.74L205.58,56.96Z" fill="#b89999" stroke="#b89999" stroke-width="0.5"/>
<path d="M220.02,160.18L220.80,160.00L226.72,80.35L226.11,79.78Z" fill="#ff2323" stroke="#ff2323" stroke-width="0.5"/>
<path d="M193.10,163.01L193.90,163.07L206.69,58.52L206.13,57.74Z" fill="#c19191" stroke="#c19191" stroke-width="0.5"/>
<path d="M219.24,160.35L220.02,160.18L226.11,79.78L225.49,79.20Z" fill="#ff2525" stroke="#ff2525" stroke-width="0.5"/>
<path d="M193.90,163.07L194.70,163.12L207.26,59.28L206.69,58.52Z" fill="#ca8a8a" stroke="#ca8a8a" stroke-width="0.5"/>
<path d="M218.45,160.52L219.24,160.35L225.49,79.20L224.88,78.63Z" fill="#ff2727" stroke="#ff2727" stroke-width="0.5"/>
<path d="M194.70,163.12L195.50,163.16L207.82,60.03L207.26,59.28Z" fill="#d08484" stroke="#d08484" stroke-width="0.5"/>
<path d="M217.67,160.69L218.45,160.52L224.88,78.63L224.27,78.05Z" fill="#ff2929" stroke="#ff2929" stroke-width="0.5"/>
<path d="M195.50,163.16L196.30,163.18L208.38,60.77L207.82,60.03Z" fill="#d67e7e" stroke="#d67e7e" stroke-width="0.5"/>
<path d="M216.88,160.86L217.67,160.69L224.27,78.05L223.66,77.47Z" fill="#ff2c2c" stroke="#ff2c2c" stroke-width="0.5"/>
<path d="M196.30,163.18L197.09,163.19L208.95,61.50L208.38,60.77Z" fill="#db7979" stroke="#db7979" stroke-width="0.5"/>
<path d="M216.09,161.02L216.88,160.86L223.66,77.47L223.05,76.88Z" fill="#ff2e2e" stroke="#ff2e2e" stroke-width="0.5"/>
<path d="M197.09,163.19L197.89,163.19L209.52,62.22L208.95,61.50Z" fill="#e17373" stroke="#e17373" stroke-width="0.5"/>
<path d="M215.31,161.17L216.09,161.02L223.05,76.88L222.45,76.30Z" fill="#ff3131" stroke="#ff3131" stroke-width="0.5"/>
<path d="M197.89,163.19L198.69,163.18L210.09,62.93L209.52,62.22Z" fill="#e76d6d" stroke="#e76d6d" stroke-width="0.5"/>
<path d="M214.52,161.33L215.31,161.17L222.45,76.30L221.84,75.71Z" fill="#ff3333" stroke="#ff3333" stroke-width="0.5"/>
<path d="M198.69,163.18L199.48,163.16L210.66,63.63L210.09,62.93Z" fill="#ed6767" stroke="#ed6767" stroke-width="0.5"/>
<path d="M213.73,161.47L214.52,161.33L221.84,75.71L221.24,75.11Z" fill="#ff3636" stroke="#ff3636" stroke-width="0.5"/>
<path d="M199.48,163.16L200.28,163.13L211.23,64.33L210.66,63.63Z" fill="#f06262" stroke="#f06262" stroke-width="0.5"/>
<path d="M212.95,161.62L213.73,161.47L221.24,75.11L220.64,74.52Z" fill="#ff3838" stroke="#ff3838" stroke-width="0.5"/>
<path d="M200.28,163.13L201.07,163.09L211.81,65.01L211.23,64.33Z" fill="#f15f5f" stroke="#f15f5f" stroke-width="0.5"/>
<path d="M212.16,161.76L212.95,161.62L220.64,74.52L220.04,73.92Z" fill="#ff3b3b" stroke="#ff3b3b" stroke-width="0.5"/>
<path d="M201.07,163.09L201.87,163.05L212.39,65.69L211.81,65.01Z" fill="#f25c5c" stroke="#f25c5c" stroke-width="0.5"/>
<path d="M211.37,161.89L212.16,161.76L220.04,73.92L219.44,73.32Z" fill="#ff3d3d" stroke="#ff3d3d" stroke-width="0.5"/>
<path d="M201.87,163.05L202.66,162.99L212.97,66.36L212.39,65.69Z" fill="#f35858" stroke="#f35858" stroke-width="0.5"/>
<path d="M210.58,162.02L211.37,161.89L219.44,73.32L218.84,72.71Z" fill="#ff4040" stroke="#ff4040" stroke-width="0.5"/>
<path d="M202.66,162.99L203.46,162.92L213.55,67.02L212.97,66.36Z" fill="#f45555" stroke="#f45555" stroke-width="0.5"/>
<path d="M209.79,162.15L210.58,162.02L218.84,72.71L218.25,72.10Z" fill="#ff4242" stroke="#ff4242" stroke-width="0.5"/>
<path d="M203.46,162.92L204.25,162.85L214.13,67.67L213.55,67.02Z" fill="#f55252" stroke="#f55252" stroke-width="0.5"/>
<path d="M209.00,162.27L209.79,162.15L218.25,72.10L217.65,71.48Z" fill="#ff4545" stroke="#ff4545" stroke-width="0.5"/>
<path d="M204.25,162.85L205.04,162.77L214.71,68.32L214.13,67.67Z" fill="#f64f4f" stroke="#f64f4f" stroke-width="0.5"/>
<path d="M208.21,162.38L209.00,162.27L217.65,71.48L217.06,70.86Z" fill="#fe4747" stroke="#fe4747" stroke-width="0.5"/>
<path d="M205.04,162.77L205.84,162.68L215.30,68.97L214.71,68.32Z" fill="#f74e4e" stroke="#f74e4e" stroke-width="0.5"/>
<path d="M207.42,162.49L208.21,162.38L217.06,70.86L216.47,70.23Z" fill="#fc4949" stroke="#fc4949" stroke-width="0.5"/>
<path d="M205.84,162.68L206.63,162.59L215.88,69.60L215.30,68.97Z" fill="#f94c4c" stroke="#f94c4c" stroke-width="0.5"/>
<path d="M206.63,162.59L207.42,162.49L216.47,70.23L215.88,69.60Z" fill="#fb4a4a" stroke="#fb4a4a" stroke-width="0.5"/></g>
<g><line x1="195.42" y1="3.29" x2="5.89" y2="43.57" stroke="#5a5a5a" stroke-width="0.6" stroke-dasharray="1.4 0.8"/>
<line x1="195.42" y1="3.29" x2="315.38" y2="90.25" stroke="#5a5a5a" stroke-width="0.6" stroke-dasharray="1.4 0.8"/>
<line x1="5.89" y1="43.57" x2="17.31" y2="92.91" stroke="#5a5a5a" stroke-width="0.6" stroke-dasharray="1.4 0.8"/>
<line x1="315.38" y1="90.25" x2="301.60" y2="140.33" stroke="#5a5a5a" stroke-width="0.6" stroke-dasharray="1.4 0.8"/>
<line x1="5.89" y1="43.57" x2="94.52" y2="151.71" stroke="#5a5a5a" stroke-width="0.6" stroke-dasharray="1.4 0.8"/>
<line x1="94.52" y1="151.71" x2="315.38" y2="90.25" stroke="#5a5a5a" stroke-width="0.6" stroke-dasharray="1.4 0.8"/>
<line x1="94.52" y1="151.71" x2="100.09" y2="201.81" stroke="#5a5a5a" stroke-width="0.6" stroke-dasharray="1.4 0.8"/>
<line x1="17.31" y1="92.91" x2="100.09" y2="201.81" stroke="#5a5a5a" stroke-width="0.6" stroke-dasharray="1.4 0.8"/>
<line x1="100.09" y1="201.81" x2="301.60" y2="140.33" stroke="#5a5a5a" stroke-width="0.6" stroke-dasharray="1.4 0.8"/></g>
<g><line x1="18.62" y1="94.62" x2="22.31" y2="93.74" stroke="#444" stroke-width="0.6" />
<line x1="21.92" y1="98.97" x2="24.09" y2="98.45" stroke="#444" stroke-width="0.6" />
<line x1="25.29" y1="103.40" x2="27.47" y2="102.86" stroke="#444" stroke-width="0.6" />
<line x1="28.71" y1="107.90" x2="30.91" y2="107.36" stroke="#444" stroke-width="0.6" />
<line x1="32.20" y1="112.49" x2="34.42" y2="111.94" stroke="#444" stroke-width="0.6" />
<line x1="35.75" y1="117.16" x2="39.58" y2="116.20" stroke="#444" stroke-width="0.6" />
<line x1="39.37" y1="121.92" x2="41.62" y2="121.35" stroke="#444" stroke-width="0.6" />
<line x1="43.05" y1="126.77" x2="45.32" y2="126.19" stroke="#444" stroke-width="0.6" />
<line x1="46.81" y1="131.71" x2="49.10" y2="131.12" stroke="#444" stroke-width="0.6" />
<line x1="50.64" y1="136.75" x2="52.94" y2="136.14" stroke="#444" stroke-width="0.6" />
<line x1="54.54" y1="141.88" x2="58.52" y2="140.82" stroke="#444" stroke-width="0.6" />
<line x1="58.52" y1="147.12" x2="60.86" y2="146.48" stroke="#444" stroke-width="0.6" />
<line x1="62.57" y1="152.45" x2="64.93" y2="151.81" stroke="#444" stroke-width="0.6" />
<line x1="66.71" y1="157.90" x2="69.09" y2="157.24" stroke="#444" stroke-width="0.6" />
<line x1="70.93" y1="163.45" x2="73.33" y2="162.78" stroke="#444" stroke-width="0.6" />
<line x1="75.24" y1="169.11" x2="79.37" y2="167.94" stroke="#444" stroke-width="0.6" />
<line x1="79.63" y1="174.90" x2="82.07" y2="174.19" stroke="#444" stroke-width="0.6" />
<line x1="84.12" y1="180.80" x2="86.57" y2="180.08" stroke="#444" stroke-width="0.6" />
<line x1="88.70" y1="186.82" x2="91.17" y2="186.09" stroke="#444" stroke-width="0.6" />
<line x1="93.37" y1="192.97" x2="95.87" y2="192.23" stroke="#444" stroke-width="0.6" />
<line x1="98.15" y1="199.26" x2="102.45" y2="197.95" stroke="#444" stroke-width="0.6" />
<line x1="298.12" y1="141.39" x2="296.56" y2="140.10" stroke="#444" stroke-width="0.6" />
<line x1="283.48" y1="145.86" x2="281.94" y2="144.55" stroke="#444" stroke-width="0.6" />
<line x1="268.60" y1="150.40" x2="265.86" y2="148.01" stroke="#444" stroke-width="0.6" />
<line x1="253.45" y1="155.02" x2="251.95" y2="153.67" stroke="#444" stroke-width="0.6" />
<line x1="238.04" y1="159.72" x2="236.57" y2="158.34" stroke="#444" stroke-width="0.6" />
<line x1="222.36" y1="164.51" x2="220.92" y2="163.10" stroke="#444" stroke-width="0.6" />
<line x1="206.41" y1="169.37" x2="203.86" y2="166.81" stroke="#444" stroke-width="0.6" />
<line x1="190.16" y1="174.33" x2="188.78" y2="172.88" stroke="#444" stroke-width="0.6" />
<line x1="173.63" y1="179.37" x2="172.27" y2="177.89" stroke="#444" stroke-width="0.6" />
<line x1="156.80" y1="184.51" x2="155.47" y2="183.00" stroke="#444" stroke-width="0.6" />
<line x1="139.65" y1="189.74" x2="137.33" y2="186.99" stroke="#444" stroke-width="0.6" />
<line x1="122.19" y1="195.07" x2="120.94" y2="193.50" stroke="#444" stroke-width="0.6" />
<line x1="104.41" y1="200.49" x2="103.19" y2="198.90" stroke="#444" stroke-width="0.6" />
<line x1="302.11" y1="138.47" x2="299.79" y2="139.17" stroke="#444" stroke-width="0.6" />
<line x1="302.66" y1="136.49" x2="300.33" y2="137.19" stroke="#444" stroke-width="0.6" />
<line x1="303.21" y1="134.49" x2="298.82" y2="135.82" stroke="#444" stroke-width="0.6" />
<line x1="303.76" y1="132.48" x2="301.41" y2="133.19" stroke="#444" stroke-width="0.6" />
<line x1="304.32" y1="130.46" x2="301.96" y2="131.17" stroke="#444" stroke-width="0.6" />
<line x1="304.88" y1="128.42" x2="302.51" y2="129.13" stroke="#444" stroke-width="0.6" />
<line x1="305.44" y1="126.37" x2="303.07" y2="127.08" stroke="#444" stroke-width="0.6" />
<line x1="306.01" y1="124.30" x2="301.55" y2="125.63" stroke="#444" stroke-width="0.6" />
<line x1="306.59" y1="122.22" x2="304.20" y2="122.92" stroke="#444" stroke-width="0.6" />
<line x1="307.16" y1="120.12" x2="304.77" y2="120.82" stroke="#444" stroke-width="0.6" />
<line x1="307.75" y1="118.00" x2="305.34" y2="118.71" stroke="#444" stroke-width="0.6" />
<line x1="308.33" y1="115.87" x2="305.92" y2="116.57" stroke="#444" stroke-width="0.6" />
<line x1="308.92" y1="113.72" x2="304.38" y2="115.04" stroke="#444" stroke-width="0.6" />
<line x1="309.52" y1="111.56" x2="307.09" y2="112.26" stroke="#444" stroke-width="0.6" />
<line x1="310.12" y1="109.38" x2="307.68" y2="110.08" stroke="#444" stroke-width="0.6" />
<line x1="310.72" y1="107.18" x2="308.28" y2="107.88" stroke="#444" stroke-width="0.6" />
<line x1="311.33" y1="104.96" x2="308.88" y2="105.67" stroke="#444" stroke-width="0.6" />
<line x1="311.95" y1="102.73" x2="307.32" y2="104.05" stroke="#444" stroke-width="0.6" />
<line x1="312.57" y1="100.48" x2="310.10" y2="101.18" stroke="#444" stroke-width="0.6" />
<line x1="313.19" y1="98.21" x2="310.71" y2="98.92" stroke="#444" stroke-width="0.6" />
<line x1="313.82" y1="95.93" x2="311.33" y2="96.63" stroke="#444" stroke-width="0.6" />
<line x1="314.45" y1="93.63" x2="311.96" y2="94.33" stroke="#444" stroke-width="0.6" />
<line x1="315.09" y1="91.31" x2="310.39" y2="92.62" stroke="#444" stroke-width="0.6" /></g>
<g fill="#111"><text x="10.70" y="100.70" font-family="Liberation Sans, sans-serif" font-size="9.3" font-weight="bold" font-style="normal" text-anchor="middle" >2</text><rect x="1.60" y="97.80" width="5.30" height="1.15"/>
<text x="27.00" y="123.60" font-family="Liberation Sans, sans-serif" font-size="9.3" font-weight="bold" font-style="normal" text-anchor="middle" >1</text><rect x="17.90" y="120.70" width="5.30" height="1.15"/>
<text x="47.10" y="148.40" font-family="Liberation Sans, sans-serif" font-size="9.3" font-weight="bold" font-style="normal" text-anchor="middle" >0</text>
<text x="67.50" y="176.40" font-family="Liberation Sans, sans-serif" font-size="9.3" font-weight="bold" font-style="normal" text-anchor="middle" >1</text>
<text x="91.00" y="206.30" font-family="Liberation Sans, sans-serif" font-size="9.3" font-weight="bold" font-style="normal" text-anchor="middle" >2</text>
<text x="34.20" y="152.60" font-family="Liberation Sans, sans-serif" font-size="9.5" font-weight="bold" font-style="italic" text-anchor="middle" >t</text>
<text x="143.80" y="201.00" font-family="Liberation Sans, sans-serif" font-size="9.3" font-weight="bold" font-style="normal" text-anchor="middle" >2</text>
<text x="211.40" y="180.50" font-family="Liberation Sans, sans-serif" font-size="9.3" font-weight="bold" font-style="normal" text-anchor="middle" >0</text>
<text x="281.50" y="161.10" font-family="Liberation Sans, sans-serif" font-size="9.3" font-weight="bold" font-style="normal" text-anchor="middle" >2</text><rect x="272.40" y="158.20" width="5.30" height="1.15"/>
<text x="220.70" y="190.20" font-family="Liberation Sans, sans-serif" font-size="9.5" font-weight="bold" font-style="italic" text-anchor="middle" >z</text>
<text x="321.70" y="91.70" font-family="Liberation Sans, sans-serif" font-size="9.3" font-weight="bold" font-style="normal" text-anchor="middle" >1</text>
<text x="319.40" y="103.00" font-family="Liberation Sans, sans-serif" font-size="9.3" font-weight="bold" font-style="normal" text-anchor="middle" >0</text>
<text x="323.00" y="114.20" font-family="Liberation Sans, sans-serif" font-size="9.3" font-weight="bold" font-style="normal" text-anchor="middle" >1</text><rect x="313.90" y="111.30" width="5.30" height="1.15"/>
<text x="321.00" y="125.10" font-family="Liberation Sans, sans-serif" font-size="9.3" font-weight="bold" font-style="normal" text-anchor="middle" >2</text><rect x="311.90" y="122.20" width="5.30" height="1.15"/>
<text x="318.20" y="135.30" font-family="Liberation Sans, sans-serif" font-size="9.3" font-weight="bold" font-style="normal" text-anchor="middle" >3</text><rect x="309.10" y="132.40" width="5.30" height="1.15"/>
<text x="329.6" y="112.6" font-family="Liberation Sans, sans-serif" font-size="9.5" font-weight="bold" font-style="italic">u<tspan font-size="7.6" dx="0.9" dy="1.2" font-style="normal">13</tspan></text></g>
<g><line x1="447.20" y1="0.65" x2="447.20" y2="181.50" stroke="#aaa" stroke-width="0.8" stroke-dasharray="0.8 1.6"/>
<line x1="505.20" y1="0.65" x2="505.20" y2="181.50" stroke="#aaa" stroke-width="0.8" stroke-dasharray="0.8 1.6"/>
<line x1="563.20" y1="0.65" x2="563.20" y2="181.50" stroke="#aaa" stroke-width="0.8" stroke-dasharray="0.8 1.6"/>
<line x1="621.20" y1="0.65" x2="621.20" y2="181.50" stroke="#aaa" stroke-width="0.8" stroke-dasharray="0.8 1.6"/>
<line x1="412.70" y1="45.75" x2="684.30" y2="45.75" stroke="#aaa" stroke-width="0.8" stroke-dasharray="0.8 1.6"/>
<line x1="412.70" y1="82.00" x2="684.30" y2="82.00" stroke="#aaa" stroke-width="0.8" stroke-dasharray="0.8 1.6"/>
<line x1="412.70" y1="118.25" x2="684.30" y2="118.25" stroke="#aaa" stroke-width="0.8" stroke-dasharray="0.8 1.6"/>
<line x1="412.70" y1="154.50" x2="684.30" y2="154.50" stroke="#aaa" stroke-width="0.8" stroke-dasharray="0.8 1.6"/>
<path d="M418.20,171.31L419.36,171.20L420.52,171.08L421.68,170.95L422.84,170.81L424.00,170.66L425.16,170.50L426.32,170.32L427.48,170.13L428.64,169.93L429.80,169.70L430.96,169.46L432.12,169.20L433.28,168.92L434.44,168.62L435.60,168.29L436.76,167.93L437.92,167.55L439.08,167.13L440.24,166.68L441.40,166.20L442.56,165.67L443.72,165.11L444.88,164.50L446.04,163.84L447.20,163.13L448.36,162.36L449.52,161.54L450.68,160.65L451.84,159.69L453.00,158.66L454.16,157.55L455.32,156.36L456.48,155.08L457.64,153.71L458.80,152.23L459.96,150.65L461.12,148.96L462.28,147.15L463.44,145.21L464.60,143.15L465.76,140.94L466.92,138.59L468.08,136.10L469.24,133.44L470.40,130.63L471.56,127.65L472.72,124.51L473.88,121.19L475.04,117.70L476.20,114.03L477.36,110.19L478.52,106.18L479.68,102.01L480.84,97.68L482.00,93.20L483.16,88.58L484.32,83.84L485.48,79.00L486.64,74.07L487.80,69.08L488.96,64.07L490.12,59.05L491.28,54.06L492.44,49.15L493.60,44.34L494.76,39.67L495.92,35.20L497.08,30.96L498.24,26.99L499.40,23.34L500.56,20.05L501.72,17.15L502.88,14.67L504.04,12.66L505.20,11.12L506.36,10.09L507.52,9.57L508.68,9.57L509.84,10.09L511.00,11.12L512.16,12.66L513.32,14.67L514.48,17.15L515.64,20.05L516.80,23.34L517.96,26.99L519.12,30.96L520.28,35.20L521.44,39.67L522.60,44.34L523.76,49.15L524.92,54.06L526.08,59.05L527.24,64.07L528.40,69.08L529.56,74.07L530.72,79.00L531.88,83.84L533.04,88.58L534.20,93.20L535.36,97.68L536.52,102.01L537.68,106.18L538.84,110.19L540.00,114.03L541.16,117.70L542.32,121.19L543.48,124.51L544.64,127.65L545.80,130.63L546.96,133.44L548.12,136.10L549.28,138.59L550.44,140.94L551.60,143.15L552.76,145.21L553.92,147.15L555.08,148.96L556.24,150.65L557.40,152.23L558.56,153.71L559.72,155.08L560.88,156.36L562.04,157.55L563.20,158.66L564.36,159.69L565.52,160.65L566.68,161.54L567.84,162.36L569.00,163.13L570.16,163.84L571.32,164.50L572.48,165.11L573.64,165.67L574.80,166.20L575.96,166.68L577.12,167.13L578.28,167.55L579.44,167.93L580.60,168.29L581.76,168.62L582.92,168.92L584.08,169.20L585.24,169.46L586.40,169.70L587.56,169.93L588.72,170.13L589.88,170.32L591.04,170.50L592.20,170.66L593.36,170.81L594.52,170.95L595.68,171.08L596.84,171.20L598.00,171.31L599.16,171.41L600.32,171.50L601.48,171.59L602.64,171.67L603.80,171.74L604.96,171.81L606.12,171.87L607.28,171.93L608.44,171.98L609.60,172.03L610.76,172.08L611.92,172.12L613.08,172.16L614.24,172.19L615.40,172.23L616.56,172.26L617.72,172.29L618.88,172.31L620.04,172.34L621.20,172.36L622.36,172.38L623.52,172.40L624.68,172.41L625.84,172.43L627.00,172.45L628.16,172.46L629.32,172.47L630.48,172.48L631.64,172.49L632.80,172.50L633.96,172.51L635.12,172.52L636.28,172.53L637.44,172.54L638.60,172.54L639.76,172.55L640.92,172.56L642.08,172.56L643.24,172.57L644.40,172.57L645.56,172.58L646.72,172.58L647.88,172.58L649.04,172.59L650.20,172.59L651.36,172.59L652.52,172.59L653.68,172.60L654.84,172.60L656.00,172.60L657.16,172.60L658.32,172.60L659.48,172.61L660.64,172.61L661.80,172.61L662.96,172.61L664.12,172.61L665.28,172.61L666.44,172.61L667.60,172.61L668.76,172.61L669.92,172.62L671.08,172.62L672.24,172.62L673.40,172.62L674.56,172.62L675.72,172.62L676.88,172.62L678.04,172.62L679.20,172.62" fill="none" stroke="#0000ff" stroke-width="1" stroke-dasharray="1.8 1"/>
<g fill="#0000ff"><circle cx="418.20" cy="171.31" r="2.5"/><circle cx="419.36" cy="171.20" r="2.5"/><circle cx="420.52" cy="171.08" r="2.5"/><circle cx="421.68" cy="170.95" r="2.5"/><circle cx="422.84" cy="170.81" r="2.5"/><circle cx="424.00" cy="170.66" r="2.5"/><circle cx="425.16" cy="170.50" r="2.5"/><circle cx="426.32" cy="170.32" r="2.5"/><circle cx="427.48" cy="170.13" r="2.5"/><circle cx="428.64" cy="169.93" r="2.5"/><circle cx="429.80" cy="169.70" r="2.5"/><circle cx="430.96" cy="169.46" r="2.5"/><circle cx="432.12" cy="169.20" r="2.5"/><circle cx="433.28" cy="168.92" r="2.5"/><circle cx="434.44" cy="168.62" r="2.5"/><circle cx="435.60" cy="168.29" r="2.5"/><circle cx="436.76" cy="167.93" r="2.5"/><circle cx="437.92" cy="167.55" r="2.5"/><circle cx="439.08" cy="167.13" r="2.5"/><circle cx="440.24" cy="166.68" r="2.5"/><circle cx="441.40" cy="166.20" r="2.5"/><circle cx="442.56" cy="165.67" r="2.5"/><circle cx="443.72" cy="165.11" r="2.5"/><circle cx="444.88" cy="164.50" r="2.5"/><circle cx="446.04" cy="163.84" r="2.5"/><circle cx="447.20" cy="163.13" r="2.5"/><circle cx="448.36" cy="162.36" r="2.5"/><circle cx="449.52" cy="161.54" r="2.5"/><circle cx="450.68" cy="160.65" r="2.5"/><circle cx="451.84" cy="159.69" r="2.5"/><circle cx="453.00" cy="158.66" r="2.5"/><circle cx="454.16" cy="157.55" r="2.5"/><circle cx="455.32" cy="156.36" r="2.5"/><circle cx="456.48" cy="155.08" r="2.5"/><circle cx="457.64" cy="153.71" r="2.5"/><circle cx="458.80" cy="152.23" r="2.5"/><circle cx="459.96" cy="150.65" r="2.5"/><circle cx="461.12" cy="148.96" r="2.5"/><circle cx="462.28" cy="147.15" r="2.5"/><circle cx="463.44" cy="145.21" r="2.5"/><circle cx="464.60" cy="143.15" r="2.5"/><circle cx="465.76" cy="140.94" r="2.5"/><circle cx="466.92" cy="138.59" r="2.5"/><circle cx="468.08" cy="136.10" r="2.5"/><circle cx="469.24" cy="133.44" r="2.5"/><circle cx="470.40" cy="130.63" r="2.5"/><circle cx="471.56" cy="127.65" r="2.5"/><circle cx="472.72" cy="124.51" r="2.5"/><circle cx="473.88" cy="121.19" r="2.5"/><circle cx="475.04" cy="117.70" r="2.5"/><circle cx="476.20" cy="114.03" r="2.5"/><circle cx="477.36" cy="110.19" r="2.5"/><circle cx="478.52" cy="106.18" r="2.5"/><circle cx="479.68" cy="102.01" r="2.5"/><circle cx="480.84" cy="97.68" r="2.5"/><circle cx="482.00" cy="93.20" r="2.5"/><circle cx="483.16" cy="88.58" r="2.5"/><circle cx="484.32" cy="83.84" r="2.5"/><circle cx="485.48" cy="79.00" r="2.5"/><circle cx="486.64" cy="74.07" r="2.5"/><circle cx="487.80" cy="69.08" r="2.5"/><circle cx="488.96" cy="64.07" r="2.5"/><circle cx="490.12" cy="59.05" r="2.5"/><circle cx="491.28" cy="54.06" r="2.5"/><circle cx="492.44" cy="49.15" r="2.5"/><circle cx="493.60" cy="44.34" r="2.5"/><circle cx="494.76" cy="39.67" r="2.5"/><circle cx="495.92" cy="35.20" r="2.5"/><circle cx="497.08" cy="30.96" r="2.5"/><circle cx="498.24" cy="26.99" r="2.5"/><circle cx="499.40" cy="23.34" r="2.5"/><circle cx="500.56" cy="20.05" r="2.5"/><circle cx="501.72" cy="17.15" r="2.5"/><circle cx="502.88" cy="14.67" r="2.5"/><circle cx="504.04" cy="12.66" r="2.5"/><circle cx="505.20" cy="11.12" r="2.5"/><circle cx="506.36" cy="10.09" r="2.5"/><circle cx="507.52" cy="9.57" r="2.5"/><circle cx="508.68" cy="9.57" r="2.5"/><circle cx="509.84" cy="10.09" r="2.5"/><circle cx="511.00" cy="11.12" r="2.5"/><circle cx="512.16" cy="12.66" r="2.5"/><circle cx="513.32" cy="14.67" r="2.5"/><circle cx="514.48" cy="17.15" r="2.5"/><circle cx="515.64" cy="20.05" r="2.5"/><circle cx="516.80" cy="23.34" r="2.5"/><circle cx="517.96" cy="26.99" r="2.5"/><circle cx="519.12" cy="30.96" r="2.5"/><circle cx="520.28" cy="35.20" r="2.5"/><circle cx="521.44" cy="39.67" r="2.5"/><circle cx="522.60" cy="44.34" r="2.5"/><circle cx="523.76" cy="49.15" r="2.5"/><circle cx="524.92" cy="54.06" r="2.5"/><circle cx="526.08" cy="59.05" r="2.5"/><circle cx="527.24" cy="64.07" r="2.5"/><circle cx="528.40" cy="69.08" r="2.5"/><circle cx="529.56" cy="74.07" r="2.5"/><circle cx="530.72" cy="79.00" r="2.5"/><circle cx="531.88" cy="83.84" r="2.5"/><circle cx="533.04" cy="88.58" r="2.5"/><circle cx="534.20" cy="93.20" r="2.5"/><circle cx="535.36" cy="97.68" r="2.5"/><circle cx="536.52" cy="102.01" r="2.5"/><circle cx="537.68" cy="106.18" r="2.5"/><circle cx="538.84" cy="110.19" r="2.5"/><circle cx="540.00" cy="114.03" r="2.5"/><circle cx="541.16" cy="117.70" r="2.5"/><circle cx="542.32" cy="121.19" r="2.5"/><circle cx="543.48" cy="124.51" r="2.5"/><circle cx="544.64" cy="127.65" r="2.5"/><circle cx="545.80" cy="130.63" r="2.5"/><circle cx="546.96" cy="133.44" r="2.5"/><circle cx="548.12" cy="136.10" r="2.5"/><circle cx="549.28" cy="138.59" r="2.5"/><circle cx="550.44" cy="140.94" r="2.5"/><circle cx="551.60" cy="143.15" r="2.5"/><circle cx="552.76" cy="145.21" r="2.5"/><circle cx="553.92" cy="147.15" r="2.5"/><circle cx="555.08" cy="148.96" r="2.5"/><circle cx="556.24" cy="150.65" r="2.5"/><circle cx="557.40" cy="152.23" r="2.5"/><circle cx="558.56" cy="153.71" r="2.5"/><circle cx="559.72" cy="155.08" r="2.5"/><circle cx="560.88" cy="156.36" r="2.5"/><circle cx="562.04" cy="157.55" r="2.5"/><circle cx="563.20" cy="158.66" r="2.5"/><circle cx="564.36" cy="159.69" r="2.5"/><circle cx="565.52" cy="160.65" r="2.5"/><circle cx="566.68" cy="161.54" r="2.5"/><circle cx="567.84" cy="162.36" r="2.5"/><circle cx="569.00" cy="163.13" r="2.5"/><circle cx="570.16" cy="163.84" r="2.5"/><circle cx="571.32" cy="164.50" r="2.5"/><circle cx="572.48" cy="165.11" r="2.5"/><circle cx="573.64" cy="165.67" r="2.5"/><circle cx="574.80" cy="166.20" r="2.5"/><circle cx="575.96" cy="166.68" r="2.5"/><circle cx="577.12" cy="167.13" r="2.5"/><circle cx="578.28" cy="167.55" r="2.5"/><circle cx="579.44" cy="167.93" r="2.5"/><circle cx="580.60" cy="168.29" r="2.5"/><circle cx="581.76" cy="168.62" r="2.5"/><circle cx="582.92" cy="168.92" r="2.5"/><circle cx="584.08" cy="169.20" r="2.5"/><circle cx="585.24" cy="169.46" r="2.5"/><circle cx="586.40" cy="169.70" r="2.5"/><circle cx="587.56" cy="169.93" r="2.5"/><circle cx="588.72" cy="170.13" r="2.5"/><circle cx="589.88" cy="170.32" r="2.5"/><circle cx="591.04" cy="170.50" r="2.5"/><circle cx="592.20" cy="170.66" r="2.5"/><circle cx="593.36" cy="170.81" r="2.5"/><circle cx="594.52" cy="170.95" r="2.5"/><circle cx="595.68" cy="171.08" r="2.5"/><circle cx="596.84" cy="171.20" r="2.5"/><circle cx="598.00" cy="171.31" r="2.5"/><circle cx="599.16" cy="171.41" r="2.5"/><circle cx="600.32" cy="171.50" r="2.5"/><circle cx="601.48" cy="171.59" r="2.5"/><circle cx="602.64" cy="171.67" r="2.5"/><circle cx="603.80" cy="171.74" r="2.5"/><circle cx="604.96" cy="171.81" r="2.5"/><circle cx="606.12" cy="171.87" r="2.5"/><circle cx="607.28" cy="171.93" r="2.5"/><circle cx="608.44" cy="171.98" r="2.5"/><circle cx="609.60" cy="172.03" r="2.5"/><circle cx="610.76" cy="172.08" r="2.5"/><circle cx="611.92" cy="172.12" r="2.5"/><circle cx="613.08" cy="172.16" r="2.5"/><circle cx="614.24" cy="172.19" r="2.5"/><circle cx="615.40" cy="172.23" r="2.5"/><circle cx="616.56" cy="172.26" r="2.5"/><circle cx="617.72" cy="172.29" r="2.5"/><circle cx="618.88" cy="172.31" r="2.5"/><circle cx="620.04" cy="172.34" r="2.5"/><circle cx="621.20" cy="172.36" r="2.5"/><circle cx="622.36" cy="172.38" r="2.5"/><circle cx="623.52" cy="172.40" r="2.5"/><circle cx="624.68" cy="172.41" r="2.5"/><circle cx="625.84" cy="172.43" r="2.5"/><circle cx="627.00" cy="172.45" r="2.5"/><circle cx="628.16" cy="172.46" r="2.5"/><circle cx="629.32" cy="172.47" r="2.5"/><circle cx="630.48" cy="172.48" r="2.5"/><circle cx="631.64" cy="172.49" r="2.5"/><circle cx="632.80" cy="172.50" r="2.5"/><circle cx="633.96" cy="172.51" r="2.5"/><circle cx="635.12" cy="172.52" r="2.5"/><circle cx="636.28" cy="172.53" r="2.5"/><circle cx="637.44" cy="172.54" r="2.5"/><circle cx="638.60" cy="172.54" r="2.5"/><circle cx="639.76" cy="172.55" r="2.5"/><circle cx="640.92" cy="172.56" r="2.5"/><circle cx="642.08" cy="172.56" r="2.5"/><circle cx="643.24" cy="172.57" r="2.5"/><circle cx="644.40" cy="172.57" r="2.5"/><circle cx="645.56" cy="172.58" r="2.5"/><circle cx="646.72" cy="172.58" r="2.5"/><circle cx="647.88" cy="172.58" r="2.5"/><circle cx="649.04" cy="172.59" r="2.5"/><circle cx="650.20" cy="172.59" r="2.5"/><circle cx="651.36" cy="172.59" r="2.5"/><circle cx="652.52" cy="172.59" r="2.5"/><circle cx="653.68" cy="172.60" r="2.5"/><circle cx="654.84" cy="172.60" r="2.5"/><circle cx="656.00" cy="172.60" r="2.5"/><circle cx="657.16" cy="172.60" r="2.5"/><circle cx="658.32" cy="172.60" r="2.5"/><circle cx="659.48" cy="172.61" r="2.5"/><circle cx="660.64" cy="172.61" r="2.5"/><circle cx="661.80" cy="172.61" r="2.5"/><circle cx="662.96" cy="172.61" r="2.5"/><circle cx="664.12" cy="172.61" r="2.5"/><circle cx="665.28" cy="172.61" r="2.5"/><circle cx="666.44" cy="172.61" r="2.5"/><circle cx="667.60" cy="172.61" r="2.5"/><circle cx="668.76" cy="172.61" r="2.5"/><circle cx="669.92" cy="172.62" r="2.5"/><circle cx="671.08" cy="172.62" r="2.5"/><circle cx="672.24" cy="172.62" r="2.5"/><circle cx="673.40" cy="172.62" r="2.5"/><circle cx="674.56" cy="172.62" r="2.5"/><circle cx="675.72" cy="172.62" r="2.5"/><circle cx="676.88" cy="172.62" r="2.5"/><circle cx="678.04" cy="172.62" r="2.5"/><circle cx="679.20" cy="172.62" r="2.5"/></g>
<path d="M418.20,171.54L419.36,171.45L420.52,171.36L421.68,171.25L422.84,171.14L424.00,171.02L425.16,170.88L426.32,170.74L427.48,170.58L428.64,170.41L429.80,170.23L430.96,170.03L432.12,169.82L433.28,169.59L434.44,169.34L435.60,169.06L436.76,168.77L437.92,168.46L439.08,168.11L440.24,167.74L441.40,167.34L442.56,166.91L443.72,166.44L444.88,165.94L446.04,165.39L447.20,164.81L448.36,164.17L449.52,163.49L450.68,162.75L451.84,161.96L453.00,161.10L454.16,160.18L455.32,159.18L456.48,158.12L457.64,156.97L458.80,155.73L459.96,154.41L461.12,152.98L462.28,151.46L463.44,149.82L464.60,148.07L465.76,146.20L466.92,144.20L468.08,142.06L469.24,139.79L470.40,137.37L471.56,134.79L472.72,132.06L473.88,129.16L475.04,126.10L476.20,122.87L477.36,119.46L478.52,115.88L479.68,112.13L480.84,108.21L482.00,104.12L483.16,99.86L484.32,95.45L485.48,90.90L486.64,86.22L487.80,81.43L488.96,76.54L490.12,71.58L491.28,66.58L492.44,61.56L493.60,56.55L494.76,51.59L495.92,46.72L497.08,41.98L498.24,37.41L499.40,33.05L500.56,28.94L501.72,25.13L502.88,21.65L504.04,18.55L505.20,15.85L506.36,13.61L507.52,11.83L508.68,10.54L509.84,9.76L511.00,9.50L512.16,9.76L513.32,10.54L514.48,11.83L515.64,13.61L516.80,15.85L517.96,18.55L519.12,21.65L520.28,25.13L521.44,28.94L522.60,33.05L523.76,37.41L524.92,41.98L526.08,46.72L527.24,51.59L528.40,56.55L529.56,61.56L530.72,66.58L531.88,71.58L533.04,76.54L534.20,81.43L535.36,86.22L536.52,90.90L537.68,95.45L538.84,99.86L540.00,104.12L541.16,108.21L542.32,112.13L543.48,115.88L544.64,119.46L545.80,122.87L546.96,126.10L548.12,129.16L549.28,132.06L550.44,134.79L551.60,137.37L552.76,139.79L553.92,142.06L555.08,144.20L556.24,146.20L557.40,148.07L558.56,149.82L559.72,151.46L560.88,152.98L562.04,154.41L563.20,155.73L564.36,156.97L565.52,158.12L566.68,159.18L567.84,160.18L569.00,161.10L570.16,161.96L571.32,162.75L572.48,163.49L573.64,164.17L574.80,164.81L575.96,165.39L577.12,165.94L578.28,166.44L579.44,166.91L580.60,167.34L581.76,167.74L582.92,168.11L584.08,168.46L585.24,168.77L586.40,169.06L587.56,169.34L588.72,169.59L589.88,169.82L591.04,170.03L592.20,170.23L593.36,170.41L594.52,170.58L595.68,170.74L596.84,170.88L598.00,171.02L599.16,171.14L600.32,171.25L601.48,171.36L602.64,171.45L603.80,171.54L604.96,171.63L606.12,171.70L607.28,171.77L608.44,171.84L609.60,171.90L610.76,171.96L611.92,172.01L613.08,172.05L614.24,172.10L615.40,172.14L616.56,172.18L617.72,172.21L618.88,172.24L620.04,172.27L621.20,172.30L622.36,172.32L623.52,172.35L624.68,172.37L625.84,172.39L627.00,172.41L628.16,172.42L629.32,172.44L630.48,172.45L631.64,172.47L632.80,172.48L633.96,172.49L635.12,172.50L636.28,172.51L637.44,172.52L638.60,172.53L639.76,172.53L640.92,172.54L642.08,172.55L643.24,172.55L644.40,172.56L645.56,172.56L646.72,172.57L647.88,172.57L649.04,172.58L650.20,172.58L651.36,172.58L652.52,172.59L653.68,172.59L654.84,172.59L656.00,172.60L657.16,172.60L658.32,172.60L659.48,172.60L660.64,172.60L661.80,172.61L662.96,172.61L664.12,172.61L665.28,172.61L666.44,172.61L667.60,172.61L668.76,172.61L669.92,172.61L671.08,172.61L672.24,172.62L673.40,172.62L674.56,172.62L675.72,172.62L676.88,172.62L678.04,172.62L679.20,172.62" fill="none" stroke="#ff0000" stroke-width="1" stroke-dasharray="3 1.5 1 1.5"/>
<g fill="#ff0000"><rect x="416.20" y="169.54" width="4" height="4"/><rect x="417.36" y="169.45" width="4" height="4"/><rect x="418.52" y="169.36" width="4" height="4"/><rect x="419.68" y="169.25" width="4" height="4"/><rect x="420.84" y="169.14" width="4" height="4"/><rect x="422.00" y="169.02" width="4" height="4"/><rect x="423.16" y="168.88" width="4" height="4"/><rect x="424.32" y="168.74" width="4" height="4"/><rect x="425.48" y="168.58" width="4" height="4"/><rect x="426.64" y="168.41" width="4" height="4"/><rect x="427.80" y="168.23" width="4" height="4"/><rect x="428.96" y="168.03" width="4" height="4"/><rect x="430.12" y="167.82" width="4" height="4"/><rect x="431.28" y="167.59" width="4" height="4"/><rect x="432.44" y="167.34" width="4" height="4"/><rect x="433.60" y="167.06" width="4" height="4"/><rect x="434.76" y="166.77" width="4" height="4"/><rect x="435.92" y="166.46" width="4" height="4"/><rect x="437.08" y="166.11" width="4" height="4"/><rect x="438.24" y="165.74" width="4" height="4"/><rect x="439.40" y="165.34" width="4" height="4"/><rect x="440.56" y="164.91" width="4" height="4"/><rect x="441.72" y="164.44" width="4" height="4"/><rect x="442.88" y="163.94" width="4" height="4"/><rect x="444.04" y="163.39" width="4" height="4"/><rect x="445.20" y="162.81" width="4" height="4"/><rect x="446.36" y="162.17" width="4" height="4"/><rect x="447.52" y="161.49" width="4" height="4"/><rect x="448.68" y="160.75" width="4" height="4"/><rect x="449.84" y="159.96" width="4" height="4"/><rect x="451.00" y="159.10" width="4" height="4"/><rect x="452.16" y="158.18" width="4" height="4"/><rect x="453.32" y="157.18" width="4" height="4"/><rect x="454.48" y="156.12" width="4" height="4"/><rect x="455.64" y="154.97" width="4" height="4"/><rect x="456.80" y="153.73" width="4" height="4"/><rect x="457.96" y="152.41" width="4" height="4"/><rect x="459.12" y="150.98" width="4" height="4"/><rect x="460.28" y="149.46" width="4" height="4"/><rect x="461.44" y="147.82" width="4" height="4"/><rect x="462.60" y="146.07" width="4" height="4"/><rect x="463.76" y="144.20" width="4" height="4"/><rect x="464.92" y="142.20" width="4" height="4"/><rect x="466.08" y="140.06" width="4" height="4"/><rect x="467.24" y="137.79" width="4" height="4"/><rect x="468.40" y="135.37" width="4" height="4"/><rect x="469.56" y="132.79" width="4" height="4"/><rect x="470.72" y="130.06" width="4" height="4"/><rect x="471.88" y="127.16" width="4" height="4"/><rect x="473.04" y="124.10" width="4" height="4"/><rect x="474.20" y="120.87" width="4" height="4"/><rect x="475.36" y="117.46" width="4" height="4"/><rect x="476.52" y="113.88" width="4" height="4"/><rect x="477.68" y="110.13" width="4" height="4"/><rect x="478.84" y="106.21" width="4" height="4"/><rect x="480.00" y="102.12" width="4" height="4"/><rect x="481.16" y="97.86" width="4" height="4"/><rect x="482.32" y="93.45" width="4" height="4"/><rect x="483.48" y="88.90" width="4" height="4"/><rect x="484.64" y="84.22" width="4" height="4"/><rect x="485.80" y="79.43" width="4" height="4"/><rect x="486.96" y="74.54" width="4" height="4"/><rect x="488.12" y="69.58" width="4" height="4"/><rect x="489.28" y="64.58" width="4" height="4"/><rect x="490.44" y="59.56" width="4" height="4"/><rect x="491.60" y="54.55" width="4" height="4"/><rect x="492.76" y="49.59" width="4" height="4"/><rect x="493.92" y="44.72" width="4" height="4"/><rect x="495.08" y="39.98" width="4" height="4"/><rect x="496.24" y="35.41" width="4" height="4"/><rect x="497.40" y="31.05" width="4" height="4"/><rect x="498.56" y="26.94" width="4" height="4"/><rect x="499.72" y="23.13" width="4" height="4"/><rect x="500.88" y="19.65" width="4" height="4"/><rect x="502.04" y="16.55" width="4" height="4"/><rect x="503.20" y="13.85" width="4" height="4"/><rect x="504.36" y="11.61" width="4" height="4"/><rect x="505.52" y="9.83" width="4" height="4"/><rect x="506.68" y="8.54" width="4" height="4"/><rect x="507.84" y="7.76" width="4" height="4"/><rect x="509.00" y="7.50" width="4" height="4"/><rect x="510.16" y="7.76" width="4" height="4"/><rect x="511.32" y="8.54" width="4" height="4"/><rect x="512.48" y="9.83" width="4" height="4"/><rect x="513.64" y="11.61" width="4" height="4"/><rect x="514.80" y="13.85" width="4" height="4"/><rect x="515.96" y="16.55" width="4" height="4"/><rect x="517.12" y="19.65" width="4" height="4"/><rect x="518.28" y="23.13" width="4" height="4"/><rect x="519.44" y="26.94" width="4" height="4"/><rect x="520.60" y="31.05" width="4" height="4"/><rect x="521.76" y="35.41" width="4" height="4"/><rect x="522.92" y="39.98" width="4" height="4"/><rect x="524.08" y="44.72" width="4" height="4"/><rect x="525.24" y="49.59" width="4" height="4"/><rect x="526.40" y="54.55" width="4" height="4"/><rect x="527.56" y="59.56" width="4" height="4"/><rect x="528.72" y="64.58" width="4" height="4"/><rect x="529.88" y="69.58" width="4" height="4"/><rect x="531.04" y="74.54" width="4" height="4"/><rect x="532.20" y="79.43" width="4" height="4"/><rect x="533.36" y="84.22" width="4" height="4"/><rect x="534.52" y="88.90" width="4" height="4"/><rect x="535.68" y="93.45" width="4" height="4"/><rect x="536.84" y="97.86" width="4" height="4"/><rect x="538.00" y="102.12" width="4" height="4"/><rect x="539.16" y="106.21" width="4" height="4"/><rect x="540.32" y="110.13" width="4" height="4"/><rect x="541.48" y="113.88" width="4" height="4"/><rect x="542.64" y="117.46" width="4" height="4"/><rect x="543.80" y="120.87" width="4" height="4"/><rect x="544.96" y="124.10" width="4" height="4"/><rect x="546.12" y="127.16" width="4" height="4"/><rect x="547.28" y="130.06" width="4" height="4"/><rect x="548.44" y="132.79" width="4" height="4"/><rect x="549.60" y="135.37" width="4" height="4"/><rect x="550.76" y="137.79" width="4" height="4"/><rect x="551.92" y="140.06" width="4" height="4"/><rect x="553.08" y="142.20" width="4" height="4"/><rect x="554.24" y="144.20" width="4" height="4"/><rect x="555.40" y="146.07" width="4" height="4"/><rect x="556.56" y="147.82" width="4" height="4"/><rect x="557.72" y="149.46" width="4" height="4"/><rect x="558.88" y="150.98" width="4" height="4"/><rect x="560.04" y="152.41" width="4" height="4"/><rect x="561.20" y="153.73" width="4" height="4"/><rect x="562.36" y="154.97" width="4" height="4"/><rect x="563.52" y="156.12" width="4" height="4"/><rect x="564.68" y="157.18" width="4" height="4"/><rect x="565.84" y="158.18" width="4" height="4"/><rect x="567.00" y="159.10" width="4" height="4"/><rect x="568.16" y="159.96" width="4" height="4"/><rect x="569.32" y="160.75" width="4" height="4"/><rect x="570.48" y="161.49" width="4" height="4"/><rect x="571.64" y="162.17" width="4" height="4"/><rect x="572.80" y="162.81" width="4" height="4"/><rect x="573.96" y="163.39" width="4" height="4"/><rect x="575.12" y="163.94" width="4" height="4"/><rect x="576.28" y="164.44" width="4" height="4"/><rect x="577.44" y="164.91" width="4" height="4"/><rect x="578.60" y="165.34" width="4" height="4"/><rect x="579.76" y="165.74" width="4" height="4"/><rect x="580.92" y="166.11" width="4" height="4"/><rect x="582.08" y="166.46" width="4" height="4"/><rect x="583.24" y="166.77" width="4" height="4"/><rect x="584.40" y="167.06" width="4" height="4"/><rect x="585.56" y="167.34" width="4" height="4"/><rect x="586.72" y="167.59" width="4" height="4"/><rect x="587.88" y="167.82" width="4" height="4"/><rect x="589.04" y="168.03" width="4" height="4"/><rect x="590.20" y="168.23" width="4" height="4"/><rect x="591.36" y="168.41" width="4" height="4"/><rect x="592.52" y="168.58" width="4" height="4"/><rect x="593.68" y="168.74" width="4" height="4"/><rect x="594.84" y="168.88" width="4" height="4"/><rect x="596.00" y="169.02" width="4" height="4"/><rect x="597.16" y="169.14" width="4" height="4"/><rect x="598.32" y="169.25" width="4" height="4"/><rect x="599.48" y="169.36" width="4" height="4"/><rect x="600.64" y="169.45" width="4" height="4"/><rect x="601.80" y="169.54" width="4" height="4"/><rect x="602.96" y="169.63" width="4" height="4"/><rect x="604.12" y="169.70" width="4" height="4"/><rect x="605.28" y="169.77" width="4" height="4"/><rect x="606.44" y="169.84" width="4" height="4"/><rect x="607.60" y="169.90" width="4" height="4"/><rect x="608.76" y="169.96" width="4" height="4"/><rect x="609.92" y="170.01" width="4" height="4"/><rect x="611.08" y="170.05" width="4" height="4"/><rect x="612.24" y="170.10" width="4" height="4"/><rect x="613.40" y="170.14" width="4" height="4"/><rect x="614.56" y="170.18" width="4" height="4"/><rect x="615.72" y="170.21" width="4" height="4"/><rect x="616.88" y="170.24" width="4" height="4"/><rect x="618.04" y="170.27" width="4" height="4"/><rect x="619.20" y="170.30" width="4" height="4"/><rect x="620.36" y="170.32" width="4" height="4"/><rect x="621.52" y="170.35" width="4" height="4"/><rect x="622.68" y="170.37" width="4" height="4"/><rect x="623.84" y="170.39" width="4" height="4"/><rect x="625.00" y="170.41" width="4" height="4"/><rect x="626.16" y="170.42" width="4" height="4"/><rect x="627.32" y="170.44" width="4" height="4"/><rect x="628.48" y="170.45" width="4" height="4"/><rect x="629.64" y="170.47" width="4" height="4"/><rect x="630.80" y="170.48" width="4" height="4"/><rect x="631.96" y="170.49" width="4" height="4"/><rect x="633.12" y="170.50" width="4" height="4"/><rect x="634.28" y="170.51" width="4" height="4"/><rect x="635.44" y="170.52" width="4" height="4"/><rect x="636.60" y="170.53" width="4" height="4"/><rect x="637.76" y="170.53" width="4" height="4"/><rect x="638.92" y="170.54" width="4" height="4"/><rect x="640.08" y="170.55" width="4" height="4"/><rect x="641.24" y="170.55" width="4" height="4"/><rect x="642.40" y="170.56" width="4" height="4"/><rect x="643.56" y="170.56" width="4" height="4"/><rect x="644.72" y="170.57" width="4" height="4"/><rect x="645.88" y="170.57" width="4" height="4"/><rect x="647.04" y="170.58" width="4" height="4"/><rect x="648.20" y="170.58" width="4" height="4"/><rect x="649.36" y="170.58" width="4" height="4"/><rect x="650.52" y="170.59" width="4" height="4"/><rect x="651.68" y="170.59" width="4" height="4"/><rect x="652.84" y="170.59" width="4" height="4"/><rect x="654.00" y="170.60" width="4" height="4"/><rect x="655.16" y="170.60" width="4" height="4"/><rect x="656.32" y="170.60" width="4" height="4"/><rect x="657.48" y="170.60" width="4" height="4"/><rect x="658.64" y="170.60" width="4" height="4"/><rect x="659.80" y="170.61" width="4" height="4"/><rect x="660.96" y="170.61" width="4" height="4"/><rect x="662.12" y="170.61" width="4" height="4"/><rect x="663.28" y="170.61" width="4" height="4"/><rect x="664.44" y="170.61" width="4" height="4"/><rect x="665.60" y="170.61" width="4" height="4"/><rect x="666.76" y="170.61" width="4" height="4"/><rect x="667.92" y="170.61" width="4" height="4"/><rect x="669.08" y="170.61" width="4" height="4"/><rect x="670.24" y="170.62" width="4" height="4"/><rect x="671.40" y="170.62" width="4" height="4"/><rect x="672.56" y="170.62" width="4" height="4"/><rect x="673.72" y="170.62" width="4" height="4"/><rect x="674.88" y="170.62" width="4" height="4"/><rect x="676.04" y="170.62" width="4" height="4"/><rect x="677.20" y="170.62" width="4" height="4"/></g>
<path d="M418.20,171.74L419.36,171.67L420.52,171.59L421.68,171.50L422.84,171.41L424.00,171.31L425.16,171.20L426.32,171.08L427.48,170.95L428.64,170.81L429.80,170.66L430.96,170.50L432.12,170.32L433.28,170.13L434.44,169.93L435.60,169.70L436.76,169.46L437.92,169.20L439.08,168.92L440.24,168.62L441.40,168.29L442.56,167.93L443.72,167.55L444.88,167.13L446.04,166.68L447.20,166.20L448.36,165.67L449.52,165.11L450.68,164.50L451.84,163.84L453.00,163.13L454.16,162.36L455.32,161.54L456.48,160.65L457.64,159.69L458.80,158.66L459.96,157.55L461.12,156.36L462.28,155.08L463.44,153.71L464.60,152.23L465.76,150.65L466.92,148.96L468.08,147.15L469.24,145.21L470.40,143.15L471.56,140.94L472.72,138.59L473.88,136.10L475.04,133.44L476.20,130.63L477.36,127.65L478.52,124.51L479.68,121.19L480.84,117.70L482.00,114.03L483.16,110.19L484.32,106.18L485.48,102.01L486.64,97.68L487.80,93.20L488.96,88.58L490.12,83.84L491.28,79.00L492.44,74.07L493.60,69.08L494.76,64.07L495.92,59.05L497.08,54.06L498.24,49.15L499.40,44.34L500.56,39.67L501.72,35.20L502.88,30.96L504.04,26.99L505.20,23.34L506.36,20.05L507.52,17.15L508.68,14.67L509.84,12.66L511.00,11.12L512.16,10.09L513.32,9.57L514.48,9.57L515.64,10.09L516.80,11.12L517.96,12.66L519.12,14.67L520.28,17.15L521.44,20.05L522.60,23.34L523.76,26.99L524.92,30.96L526.08,35.20L527.24,39.67L528.40,44.34L529.56,49.15L530.72,54.06L531.88,59.05L533.04,64.07L534.20,69.08L535.36,74.07L536.52,79.00L537.68,83.84L538.84,88.58L540.00,93.20L541.16,97.68L542.32,102.01L543.48,106.18L544.64,110.19L545.80,114.03L546.96,117.70L548.12,121.19L549.28,124.51L550.44,127.65L551.60,130.63L552.76,133.44L553.92,136.10L555.08,138.59L556.24,140.94L557.40,143.15L558.56,145.21L559.72,147.15L560.88,148.96L562.04,150.65L563.20,152.23L564.36,153.71L565.52,155.08L566.68,156.36L567.84,157.55L569.00,158.66L570.16,159.69L571.32,160.65L572.48,161.54L573.64,162.36L574.80,163.13L575.96,163.84L577.12,164.50L578.28,165.11L579.44,165.67L580.60,166.20L581.76,166.68L582.92,167.13L584.08,167.55L585.24,167.93L586.40,168.29L587.56,168.62L588.72,168.92L589.88,169.20L591.04,169.46L592.20,169.70L593.36,169.93L594.52,170.13L595.68,170.32L596.84,170.50L598.00,170.66L599.16,170.81L600.32,170.95L601.48,171.08L602.64,171.20L603.80,171.31L604.96,171.41L606.12,171.50L607.28,171.59L608.44,171.67L609.60,171.74L610.76,171.81L611.92,171.87L613.08,171.93L614.24,171.98L615.40,172.03L616.56,172.08L617.72,172.12L618.88,172.16L620.04,172.19L621.20,172.23L622.36,172.26L623.52,172.29L624.68,172.31L625.84,172.34L627.00,172.36L628.16,172.38L629.32,172.40L630.48,172.41L631.64,172.43L632.80,172.45L633.96,172.46L635.12,172.47L636.28,172.48L637.44,172.49L638.60,172.50L639.76,172.51L640.92,172.52L642.08,172.53L643.24,172.54L644.40,172.54L645.56,172.55L646.72,172.56L647.88,172.56L649.04,172.57L650.20,172.57L651.36,172.58L652.52,172.58L653.68,172.58L654.84,172.59L656.00,172.59L657.16,172.59L658.32,172.59L659.48,172.60L660.64,172.60L661.80,172.60L662.96,172.60L664.12,172.60L665.28,172.61L666.44,172.61L667.60,172.61L668.76,172.61L669.92,172.61L671.08,172.61L672.24,172.61L673.40,172.61L674.56,172.61L675.72,172.62L676.88,172.62L678.04,172.62L679.20,172.62" fill="none" stroke="#00ff00" stroke-width="1" stroke-dasharray="3 1.5"/>
<g fill="#00ff00"><path d="M418.20 168.84l2.9 2.9l-2.9 2.9l-2.9-2.9z"/><path d="M419.36 168.77l2.9 2.9l-2.9 2.9l-2.9-2.9z"/><path d="M420.52 168.69l2.9 2.9l-2.9 2.9l-2.9-2.9z"/><path d="M421.68 168.60l2.9 2.9l-2.9 2.9l-2.9-2.9z"/><path d="M422.84 168.51l2.9 2.9l-2.9 2.9l-2.9-2.9z"/><path d="M424.00 168.41l2.9 2.9l-2.9 2.9l-2.9-2.9z"/><path d="M425.16 168.30l2.9 2.9l-2.9 2.9l-2.9-2.9z"/><path d="M426.32 168.18l2.9 2.9l-2.9 2.9l-2.9-2.9z"/><path d="M427.48 168.05l2.9 2.9l-2.9 2.9l-2.9-2.9z"/><path d="M428.64 167.91l2.9 2.9l-2.9 2.9l-2.9-2.9z"/><path d="M429.80 167.76l2.9 2.9l-2.9 2.9l-2.9-2.9z"/><path d="M430.96 167.60l2.9 2.9l-2.9 2.9l-2.9-2.9z"/><path d="M432.12 167.42l2.9 2.9l-2.9 2.9l-2.9-2.9z"/><path d="M433.28 167.23l2.9 2.9l-2.9 2.9l-2.9-2.9z"/><path d="M434.44 167.03l2.9 2.9l-2.9 2.9l-2.9-2.9z"/><path d="M435.60 166.80l2.9 2.9l-2.9 2.9l-2.9-2.9z"/><path d="M436.76 166.56l2.9 2.9l-2.9 2.9l-2.9-2.9z"/><path d="M437.92 166.30l2.9 2.9l-2.9 2.9l-2.9-2.9z"/><path d="M439.08 166.02l2.9 2.9l-2.9 2.9l-2.9-2.9z"/><path d="M440.24 165.72l2.9 2.9l-2.9 2.9l-2.9-2.9z"/><path d="M441.40 165.39l2.9 2.9l-2.9 2.9l-2.9-2.9z"/><path d="M442.56 165.03l2.9 2.9l-2.9 2.9l-2.9-2.9z"/><path d="M443.72 164.65l2.9 2.9l-2.9 2.9l-2.9-2.9z"/><path d="M444.88 164.23l2.9 2.9l-2.9 2.9l-2.9-2.9z"/><path d="M446.04 163.78l2.9 2.9l-2.9 2.9l-2.9-2.9z"/><path d="M447.20 163.30l2.9 2.9l-2.9 2.9l-2.9-2.9z"/><path d="M448.36 162.77l2.9 2.9l-2.9 2.9l-2.9-2.9z"/><path d="M449.52 162.21l2.9 2.9l-2.9 2.9l-2.9-2.9z"/><path d="M450.68 161.60l2.9 2.9l-2.9 2.9l-2.9-2.9z"/><path d="M451.84 160.94l2.9 2.9l-2.9 2.9l-2.9-2.9z"/><path d="M453.00 160.23l2.9 2.9l-2.9 2.9l-2.9-2.9z"/><path d="M454.16 159.46l2.9 2.9l-2.9 2.9l-2.9-2.9z"/><path d="M455.32 158.64l2.9 2.9l-2.9 2.9l-2.9-2.9z"/><path d="M456.48 157.75l2.9 2.9l-2.9 2.9l-2.9-2.9z"/><path d="M457.64 156.79l2.9 2.9l-2.9 2.9l-2.9-2.9z"/><path d="M458.80 155.76l2.9 2.9l-2.9 2.9l-2.9-2.9z"/><path d="M459.96 154.65l2.9 2.9l-2.9 2.9l-2.9-2.9z"/><path d="M461.12 153.46l2.9 2.9l-2.9 2.9l-2.9-2.9z"/><path d="M462.28 152.18l2.9 2.9l-2.9 2.9l-2.9-2.9z"/><path d="M463.44 150.81l2.9 2.9l-2.9 2.9l-2.9-2.9z"/><path d="M464.60 149.33l2.9 2.9l-2.9 2.9l-2.9-2.9z"/><path d="M465.76 147.75l2.9 2.9l-2.9 2.9l-2.9-2.9z"/><path d="M466.92 146.06l2.9 2.9l-2.9 2.9l-2.9-2.9z"/><path d="M468.08 144.25l2.9 2.9l-2.9 2.9l-2.9-2.9z"/><path d="M469.24 142.31l2.9 2.9l-2.9 2.9l-2.9-2.9z"/><path d="M470.40 140.25l2.9 2.9l-2.9 2.9l-2.9-2.9z"/><path d="M471.56 138.04l2.9 2.9l-2.9 2.9l-2.9-2.9z"/><path d="M472.72 135.69l2.9 2.9l-2.9 2.9l-2.9-2.9z"/><path d="M473.88 133.20l2.9 2.9l-2.9 2.9l-2.9-2.9z"/><path d="M475.04 130.54l2.9 2.9l-2.9 2.9l-2.9-2.9z"/><path d="M476.20 127.73l2.9 2.9l-2.9 2.9l-2.9-2.9z"/><path d="M477.36 124.75l2.9 2.9l-2.9 2.9l-2.9-2.9z"/><path d="M478.52 121.61l2.9 2.9l-2.9 2.9l-2.9-2.9z"/><path d="M479.68 118.29l2.9 2.9l-2.9 2.9l-2.9-2.9z"/><path d="M480.84 114.80l2.9 2.9l-2.9 2.9l-2.9-2.9z"/><path d="M482.00 111.13l2.9 2.9l-2.9 2.9l-2.9-2.9z"/><path d="M483.16 107.29l2.9 2.9l-2.9 2.9l-2.9-2.9z"/><path d="M484.32 103.28l2.9 2.9l-2.9 2.9l-2.9-2.9z"/><path d="M485.48 99.11l2.9 2.9l-2.9 2.9l-2.9-2.9z"/><path d="M486.64 94.78l2.9 2.9l-2.9 2.9l-2.9-2.9z"/><path d="M487.80 90.30l2.9 2.9l-2.9 2.9l-2.9-2.9z"/><path d="M488.96 85.68l2.9 2.9l-2.9 2.9l-2.9-2.9z"/><path d="M490.12 80.94l2.9 2.9l-2.9 2.9l-2.9-2.9z"/><path d="M491.28 76.10l2.9 2.9l-2.9 2.9l-2.9-2.9z"/><path d="M492.44 71.17l2.9 2.9l-2.9 2.9l-2.9-2.9z"/><path d="M493.60 66.18l2.9 2.9l-2.9 2.9l-2.9-2.9z"/><path d="M494.76 61.17l2.9 2.9l-2.9 2.9l-2.9-2.9z"/><path d="M495.92 56.15l2.9 2.9l-2.9 2.9l-2.9-2.9z"/><path d="M497.08 51.16l2.9 2.9l-2.9 2.9l-2.9-2.9z"/><path d="M498.24 46.25l2.9 2.9l-2.9 2.9l-2.9-2.9z"/><path d="M499.40 41.44l2.9 2.9l-2.9 2.9l-2.9-2.9z"/><path d="M500.56 36.77l2.9 2.9l-2.9 2.9l-2.9-2.9z"/><path d="M501.72 32.30l2.9 2.9l-2.9 2.9l-2.9-2.9z"/><path d="M502.88 28.06l2.9 2.9l-2.9 2.9l-2.9-2.9z"/><path d="M504.04 24.09l2.9 2.9l-2.9 2.9l-2.9-2.9z"/><path d="M505.20 20.44l2.9 2.9l-2.9 2.9l-2.9-2.9z"/><path d="M506.36 17.15l2.9 2.9l-2.9 2.9l-2.9-2.9z"/><path d="M507.52 14.25l2.9 2.9l-2.9 2.9l-2.9-2.9z"/><path d="M508.68 11.77l2.9 2.9l-2.9 2.9l-2.9-2.9z"/><path d="M509.84 9.76l2.9 2.9l-2.9 2.9l-2.9-2.9z"/><path d="M511.00 8.22l2.9 2.9l-2.9 2.9l-2.9-2.9z"/><path d="M512.16 7.19l2.9 2.9l-2.9 2.9l-2.9-2.9z"/><path d="M513.32 6.67l2.9 2.9l-2.9 2.9l-2.9-2.9z"/><path d="M514.48 6.67l2.9 2.9l-2.9 2.9l-2.9-2.9z"/><path d="M515.64 7.19l2.9 2.9l-2.9 2.9l-2.9-2.9z"/><path d="M516.80 8.22l2.9 2.9l-2.9 2.9l-2.9-2.9z"/><path d="M517.96 9.76l2.9 2.9l-2.9 2.9l-2.9-2.9z"/><path d="M519.12 11.77l2.9 2.9l-2.9 2.9l-2.9-2.9z"/><path d="M520.28 14.25l2.9 2.9l-2.9 2.9l-2.9-2.9z"/><path d="M521.44 17.15l2.9 2.9l-2.9 2.9l-2.9-2.9z"/><path d="M522.60 20.44l2.9 2.9l-2.9 2.9l-2.9-2.9z"/><path d="M523.76 24.09l2.9 2.9l-2.9 2.9l-2.9-2.9z"/><path d="M524.92 28.06l2.9 2.9l-2.9 2.9l-2.9-2.9z"/><path d="M526.08 32.30l2.9 2.9l-2.9 2.9l-2.9-2.9z"/><path d="M527.24 36.77l2.9 2.9l-2.9 2.9l-2.9-2.9z"/><path d="M528.40 41.44l2.9 2.9l-2.9 2.9l-2.9-2.9z"/><path d="M529.56 46.25l2.9 2.9l-2.9 2.9l-2.9-2.9z"/><path d="M530.72 51.16l2.9 2.9l-2.9 2.9l-2.9-2.9z"/><path d="M531.88 56.15l2.9 2.9l-2.9 2.9l-2.9-2.9z"/><path d="M533.04 61.17l2.9 2.9l-2.9 2.9l-2.9-2.9z"/><path d="M534.20 66.18l2.9 2.9l-2.9 2.9l-2.9-2.9z"/><path d="M535.36 71.17l2.9 2.9l-2.9 2.9l-2.9-2.9z"/><path d="M536.52 76.10l2.9 2.9l-2.9 2.9l-2.9-2.9z"/><path d="M537.68 80.94l2.9 2.9l-2.9 2.9l-2.9-2.9z"/><path d="M538.84 85.68l2.9 2.9l-2.9 2.9l-2.9-2.9z"/><path d="M540.00 90.30l2.9 2.9l-2.9 2.9l-2.9-2.9z"/><path d="M541.16 94.78l2.9 2.9l-2.9 2.9l-2.9-2.9z"/><path d="M542.32 99.11l2.9 2.9l-2.9 2.9l-2.9-2.9z"/><path d="M543.48 103.28l2.9 2.9l-2.9 2.9l-2.9-2.9z"/><path d="M544.64 107.29l2.9 2.9l-2.9 2.9l-2.9-2.9z"/><path d="M545.80 111.13l2.9 2.9l-2.9 2.9l-2.9-2.9z"/><path d="M546.96 114.80l2.9 2.9l-2.9 2.9l-2.9-2.9z"/><path d="M548.12 118.29l2.9 2.9l-2.9 2.9l-2.9-2.9z"/><path d="M549.28 121.61l2.9 2.9l-2.9 2.9l-2.9-2.9z"/><path d="M550.44 124.75l2.9 2.9l-2.9 2.9l-2.9-2.9z"/><path d="M551.60 127.73l2.9 2.9l-2.9 2.9l-2.9-2.9z"/><path d="M552.76 130.54l2.9 2.9l-2.9 2.9l-2.9-2.9z"/><path d="M553.92 133.20l2.9 2.9l-2.9 2.9l-2.9-2.9z"/><path d="M555.08 135.69l2.9 2.9l-2.9 2.9l-2.9-2.9z"/><path d="M556.24 138.04l2.9 2.9l-2.9 2.9l-2.9-2.9z"/><path d="M557.40 140.25l2.9 2.9l-2.9 2.9l-2.9-2.9z"/><path d="M558.56 142.31l2.9 2.9l-2.9 2.9l-2.9-2.9z"/><path d="M559.72 144.25l2.9 2.9l-2.9 2.9l-2.9-2.9z"/><path d="M560.88 146.06l2.9 2.9l-2.9 2.9l-2.9-2.9z"/><path d="M562.04 147.75l2.9 2.9l-2.9 2.9l-2.9-2.9z"/><path d="M563.20 149.33l2.9 2.9l-2.9 2.9l-2.9-2.9z"/><path d="M564.36 150.81l2.9 2.9l-2.9 2.9l-2.9-2.9z"/><path d="M565.52 152.18l2.9 2.9l-2.9 2.9l-2.9-2.9z"/><path d="M566.68 153.46l2.9 2.9l-2.9 2.9l-2.9-2.9z"/><path d="M567.84 154.65l2.9 2.9l-2.9 2.9l-2.9-2.9z"/><path d="M569.00 155.76l2.9 2.9l-2.9 2.9l-2.9-2.9z"/><path d="M570.16 156.79l2.9 2.9l-2.9 2.9l-2.9-2.9z"/><path d="M571.32 157.75l2.9 2.9l-2.9 2.9l-2.9-2.9z"/><path d="M572.48 158.64l2.9 2.9l-2.9 2.9l-2.9-2.9z"/><path d="M573.64 159.46l2.9 2.9l-2.9 2.9l-2.9-2.9z"/><path d="M574.80 160.23l2.9 2.9l-2.9 2.9l-2.9-2.9z"/><path d="M575.96 160.94l2.9 2.9l-2.9 2.9l-2.9-2.9z"/><path d="M577.12 161.60l2.9 2.9l-2.9 2.9l-2.9-2.9z"/><path d="M578.28 162.21l2.9 2.9l-2.9 2.9l-2.9-2.9z"/><path d="M579.44 162.77l2.9 2.9l-2.9 2.9l-2.9-2.9z"/><path d="M580.60 163.30l2.9 2.9l-2.9 2.9l-2.9-2.9z"/><path d="M581.76 163.78l2.9 2.9l-2.9 2.9l-2.9-2.9z"/><path d="M582.92 164.23l2.9 2.9l-2.9 2.9l-2.9-2.9z"/><path d="M584.08 164.65l2.9 2.9l-2.9 2.9l-2.9-2.9z"/><path d="M585.24 165.03l2.9 2.9l-2.9 2.9l-2.9-2.9z"/><path d="M586.40 165.39l2.9 2.9l-2.9 2.9l-2.9-2.9z"/><path d="M587.56 165.72l2.9 2.9l-2.9 2.9l-2.9-2.9z"/><path d="M588.72 166.02l2.9 2.9l-2.9 2.9l-2.9-2.9z"/><path d="M589.88 166.30l2.9 2.9l-2.9 2.9l-2.9-2.9z"/><path d="M591.04 166.56l2.9 2.9l-2.9 2.9l-2.9-2.9z"/><path d="M592.20 166.80l2.9 2.9l-2.9 2.9l-2.9-2.9z"/><path d="M593.36 167.03l2.9 2.9l-2.9 2.9l-2.9-2.9z"/><path d="M594.52 167.23l2.9 2.9l-2.9 2.9l-2.9-2.9z"/><path d="M595.68 167.42l2.9 2.9l-2.9 2.9l-2.9-2.9z"/><path d="M596.84 167.60l2.9 2.9l-2.9 2.9l-2.9-2.9z"/><path d="M598.00 167.76l2.9 2.9l-2.9 2.9l-2.9-2.9z"/><path d="M599.16 167.91l2.9 2.9l-2.9 2.9l-2.9-2.9z"/><path d="M600.32 168.05l2.9 2.9l-2.9 2.9l-2.9-2.9z"/><path d="M601.48 168.18l2.9 2.9l-2.9 2.9l-2.9-2.9z"/><path d="M602.64 168.30l2.9 2.9l-2.9 2.9l-2.9-2.9z"/><path d="M603.80 168.41l2.9 2.9l-2.9 2.9l-2.9-2.9z"/><path d="M604.96 168.51l2.9 2.9l-2.9 2.9l-2.9-2.9z"/><path d="M606.12 168.60l2.9 2.9l-2.9 2.9l-2.9-2.9z"/><path d="M607.28 168.69l2.9 2.9l-2.9 2.9l-2.9-2.9z"/><path d="M608.44 168.77l2.9 2.9l-2.9 2.9l-2.9-2.9z"/><path d="M609.60 168.84l2.9 2.9l-2.9 2.9l-2.9-2.9z"/><path d="M610.76 168.91l2.9 2.9l-2.9 2.9l-2.9-2.9z"/><path d="M611.92 168.97l2.9 2.9l-2.9 2.9l-2.9-2.9z"/><path d="M613.08 169.03l2.9 2.9l-2.9 2.9l-2.9-2.9z"/><path d="M614.24 169.08l2.9 2.9l-2.9 2.9l-2.9-2.9z"/><path d="M615.40 169.13l2.9 2.9l-2.9 2.9l-2.9-2.9z"/><path d="M616.56 169.18l2.9 2.9l-2.9 2.9l-2.9-2.9z"/><path d="M617.72 169.22l2.9 2.9l-2.9 2.9l-2.9-2.9z"/><path d="M618.88 169.26l2.9 2.9l-2.9 2.9l-2.9-2.9z"/><path d="M620.04 169.29l2.9 2.9l-2.9 2.9l-2.9-2.9z"/><path d="M621.20 169.33l2.9 2.9l-2.9 2.9l-2.9-2.9z"/><path d="M622.36 169.36l2.9 2.9l-2.9 2.9l-2.9-2.9z"/><path d="M623.52 169.39l2.9 2.9l-2.9 2.9l-2.9-2.9z"/><path d="M624.68 169.41l2.9 2.9l-2.9 2.9l-2.9-2.9z"/><path d="M625.84 169.44l2.9 2.9l-2.9 2.9l-2.9-2.9z"/><path d="M627.00 169.46l2.9 2.9l-2.9 2.9l-2.9-2.9z"/><path d="M628.16 169.48l2.9 2.9l-2.9 2.9l-2.9-2.9z"/><path d="M629.32 169.50l2.9 2.9l-2.9 2.9l-2.9-2.9z"/><path d="M630.48 169.51l2.9 2.9l-2.9 2.9l-2.9-2.9z"/><path d="M631.64 169.53l2.9 2.9l-2.9 2.9l-2.9-2.9z"/><path d="M632.80 169.55l2.9 2.9l-2.9 2.9l-2.9-2.9z"/><path d="M633.96 169.56l2.9 2.9l-2.9 2.9l-2.9-2.9z"/><path d="M635.12 169.57l2.9 2.9l-2.9 2.9l-2.9-2.9z"/><path d="M636.28 169.58l2.9 2.9l-2.9 2.9l-2.9-2.9z"/><path d="M637.44 169.59l2.9 2.9l-2.9 2.9l-2.9-2.9z"/><path d="M638.60 169.60l2.9 2.9l-2.9 2.9l-2.9-2.9z"/><path d="M639.76 169.61l2.9 2.9l-2.9 2.9l-2.9-2.9z"/><path d="M640.92 169.62l2.9 2.9l-2.9 2.9l-2.9-2.9z"/><path d="M642.08 169.63l2.9 2.9l-2.9 2.9l-2.9-2.9z"/><path d="M643.24 169.64l2.9 2.9l-2.9 2.9l-2.9-2.9z"/><path d="M644.40 169.64l2.9 2.9l-2.9 2.9l-2.9-2.9z"/><path d="M645.56 169.65l2.9 2.9l-2.9 2.9l-2.9-2.9z"/><path d="M646.72 169.66l2.9 2.9l-2.9 2.9l-2.9-2.9z"/><path d="M647.88 169.66l2.9 2.9l-2.9 2.9l-2.9-2.9z"/><path d="M649.04 169.67l2.9 2.9l-2.9 2.9l-2.9-2.9z"/><path d="M650.20 169.67l2.9 2.9l-2.9 2.9l-2.9-2.9z"/><path d="M651.36 169.68l2.9 2.9l-2.9 2.9l-2.9-2.9z"/><path d="M652.52 169.68l2.9 2.9l-2.9 2.9l-2.9-2.9z"/><path d="M653.68 169.68l2.9 2.9l-2.9 2.9l-2.9-2.9z"/><path d="M654.84 169.69l2.9 2.9l-2.9 2.9l-2.9-2.9z"/><path d="M656.00 169.69l2.9 2.9l-2.9 2.9l-2.9-2.9z"/><path d="M657.16 169.69l2.9 2.9l-2.9 2.9l-2.9-2.9z"/><path d="M658.32 169.69l2.9 2.9l-2.9 2.9l-2.9-2.9z"/><path d="M659.48 169.70l2.9 2.9l-2.9 2.9l-2.9-2.9z"/><path d="M660.64 169.70l2.9 2.9l-2.9 2.9l-2.9-2.9z"/><path d="M661.80 169.70l2.9 2.9l-2.9 2.9l-2.9-2.9z"/><path d="M662.96 169.70l2.9 2.9l-2.9 2.9l-2.9-2.9z"/><path d="M664.12 169.70l2.9 2.9l-2.9 2.9l-2.9-2.9z"/><path d="M665.28 169.71l2.9 2.9l-2.9 2.9l-2.9-2.9z"/><path d="M666.44 169.71l2.9 2.9l-2.9 2.9l-2.9-2.9z"/><path d="M667.60 169.71l2.9 2.9l-2.9 2.9l-2.9-2.9z"/><path d="M668.76 169.71l2.9 2.9l-2.9 2.9l-2.9-2.9z"/><path d="M669.92 169.71l2.9 2.9l-2.9 2.9l-2.9-2.9z"/><path d="M671.08 169.71l2.9 2.9l-2.9 2.9l-2.9-2.9z"/><path d="M672.24 169.71l2.9 2.9l-2.9 2.9l-2.9-2.9z"/><path d="M673.40 169.71l2.9 2.9l-2.9 2.9l-2.9-2.9z"/><path d="M674.56 169.71l2.9 2.9l-2.9 2.9l-2.9-2.9z"/><path d="M675.72 169.72l2.9 2.9l-2.9 2.9l-2.9-2.9z"/><path d="M676.88 169.72l2.9 2.9l-2.9 2.9l-2.9-2.9z"/><path d="M678.04 169.72l2.9 2.9l-2.9 2.9l-2.9-2.9z"/><path d="M679.20 169.72l2.9 2.9l-2.9 2.9l-2.9-2.9z"/></g>
<rect x="412.70" y="0.65" width="271.60" height="180.85" fill="none" stroke="#111" stroke-width="1.2"/>
<line x1="418.20" y1="181.50" x2="418.20" y2="179.50" stroke="#111" stroke-width="0.9" />
<line x1="418.20" y1="0.65" x2="418.20" y2="2.65" stroke="#111" stroke-width="0.9" />
<line x1="432.70" y1="181.50" x2="432.70" y2="179.50" stroke="#111" stroke-width="0.9" />
<line x1="432.70" y1="0.65" x2="432.70" y2="2.65" stroke="#111" stroke-width="0.9" />
<line x1="447.20" y1="181.50" x2="447.20" y2="178.50" stroke="#111" stroke-width="0.9" />
<line x1="447.20" y1="0.65" x2="447.20" y2="3.65" stroke="#111" stroke-width="0.9" />
<line x1="461.70" y1="181.50" x2="461.70" y2="179.50" stroke="#111" stroke-width="0.9" />
<line x1="461.70" y1="0.65" x2="461.70" y2="2.65" stroke="#111" stroke-width="0.9" />
<line x1="476.20" y1="181.50" x2="476.20" y2="179.50" stroke="#111" stroke-width="0.9" />
<line x1="476.20" y1="0.65" x2="476.20" y2="2.65" stroke="#111" stroke-width="0.9" />
<line x1="490.70" y1="181.50" x2="490.70" y2="179.50" stroke="#111" stroke-width="0.9" />
<line x1="490.70" y1="0.65" x2="490.70" y2="2.65" stroke="#111" stroke-width="0.9" />
<line x1="505.20" y1="181.50" x2="505.20" y2="178.50" stroke="#111" stroke-width="0.9" />
<line x1="505.20" y1="0.65" x2="505.20" y2="3.65" stroke="#111" stroke-width="0.9" />
<line x1="519.70" y1="181.50" x2="519.70" y2="179.50" stroke="#111" stroke-width="0.9" />
<line x1="519.70" y1="0.65" x2="519.70" y2="2.65" stroke="#111" stroke-width="0.9" />
<line x1="534.20" y1="181.50" x2="534.20" y2="179.50" stroke="#111" stroke-width="0.9" />
<line x1="534.20" y1="0.65" x2="534.20" y2="2.65" stroke="#111" stroke-width="0.9" />
<line x1="548.70" y1="181.50" x2="548.70" y2="179.50" stroke="#111" stroke-width="0.9" />
<line x1="548.70" y1="0.65" x2="548.70" y2="2.65" stroke="#111" stroke-width="0.9" />
<line x1="563.20" y1="181.50" x2="563.20" y2="178.50" stroke="#111" stroke-width="0.9" />
<line x1="563.20" y1="0.65" x2="563.20" y2="3.65" stroke="#111" stroke-width="0.9" />
<line x1="577.70" y1="181.50" x2="577.70" y2="179.50" stroke="#111" stroke-width="0.9" />
<line x1="577.70" y1="0.65" x2="577.70" y2="2.65" stroke="#111" stroke-width="0.9" />
<line x1="592.20" y1="181.50" x2="592.20" y2="179.50" stroke="#111" stroke-width="0.9" />
<line x1="592.20" y1="0.65" x2="592.20" y2="2.65" stroke="#111" stroke-width="0.9" />
<line x1="606.70" y1="181.50" x2="606.70" y2="179.50" stroke="#111" stroke-width="0.9" />
<line x1="606.70" y1="0.65" x2="606.70" y2="2.65" stroke="#111" stroke-width="0.9" />
<line x1="621.20" y1="181.50" x2="621.20" y2="178.50" stroke="#111" stroke-width="0.9" />
<line x1="621.20" y1="0.65" x2="621.20" y2="3.65" stroke="#111" stroke-width="0.9" />
<line x1="635.70" y1="181.50" x2="635.70" y2="179.50" stroke="#111" stroke-width="0.9" />
<line x1="635.70" y1="0.65" x2="635.70" y2="2.65" stroke="#111" stroke-width="0.9" />
<line x1="650.20" y1="181.50" x2="650.20" y2="179.50" stroke="#111" stroke-width="0.9" />
<line x1="650.20" y1="0.65" x2="650.20" y2="2.65" stroke="#111" stroke-width="0.9" />
<line x1="664.70" y1="181.50" x2="664.70" y2="179.50" stroke="#111" stroke-width="0.9" />
<line x1="664.70" y1="0.65" x2="664.70" y2="2.65" stroke="#111" stroke-width="0.9" />
<line x1="679.20" y1="181.50" x2="679.20" y2="178.50" stroke="#111" stroke-width="0.9" />
<line x1="679.20" y1="0.65" x2="679.20" y2="3.65" stroke="#111" stroke-width="0.9" />
<line x1="412.70" y1="176.25" x2="414.70" y2="176.25" stroke="#111" stroke-width="0.9" />
<line x1="684.30" y1="176.25" x2="682.30" y2="176.25" stroke="#111" stroke-width="0.9" />
<line x1="412.70" y1="169.00" x2="414.70" y2="169.00" stroke="#111" stroke-width="0.9" />
<line x1="684.30" y1="169.00" x2="682.30" y2="169.00" stroke="#111" stroke-width="0.9" />
<line x1="412.70" y1="161.75" x2="414.70" y2="161.75" stroke="#111" stroke-width="0.9" />
<line x1="684.30" y1="161.75" x2="682.30" y2="161.75" stroke="#111" stroke-width="0.9" />
<line x1="412.70" y1="154.50" x2="415.70" y2="154.50" stroke="#111" stroke-width="0.9" />
<line x1="684.30" y1="154.50" x2="681.30" y2="154.50" stroke="#111" stroke-width="0.9" />
<line x1="412.70" y1="147.25" x2="414.70" y2="147.25" stroke="#111" stroke-width="0.9" />
<line x1="684.30" y1="147.25" x2="682.30" y2="147.25" stroke="#111" stroke-width="0.9" />
<line x1="412.70" y1="140.00" x2="414.70" y2="140.00" stroke="#111" stroke-width="0.9" />
<line x1="684.30" y1="140.00" x2="682.30" y2="140.00" stroke="#111" stroke-width="0.9" />
<line x1="412.70" y1="132.75" x2="414.70" y2="132.75" stroke="#111" stroke-width="0.9" />
<line x1="684.30" y1="132.75" x2="682.30" y2="132.75" stroke="#111" stroke-width="0.9" />
<line x1="412.70" y1="125.50" x2="414.70" y2="125.50" stroke="#111" stroke-width="0.9" />
<line x1="684.30" y1="125.50" x2="682.30" y2="125.50" stroke="#111" stroke-width="0.9" />
<line x1="412.70" y1="118.25" x2="415.70" y2="118.25" stroke="#111" stroke-width="0.9" />
<line x1="684.30" y1="118.25" x2="681.30" y2="118.25" stroke="#111" stroke-width="0.9" />
<line x1="412.70" y1="111.00" x2="414.70" y2="111.00" stroke="#111" stroke-width="0.9" />
<line x1="684.30" y1="111.00" x2="682.30" y2="111.00" stroke="#111" stroke-width="0.9" />
<line x1="412.70" y1="103.75" x2="414.70" y2="103.75" stroke="#111" stroke-width="0.9" />
<line x1="684.30" y1="103.75" x2="682.30" y2="103.75" stroke="#111" stroke-width="0.9" />
<line x1="412.70" y1="96.50" x2="414.70" y2="96.50" stroke="#111" stroke-width="0.9" />
<line x1="684.30" y1="96.50" x2="682.30" y2="96.50" stroke="#111" stroke-width="0.9" />
<line x1="412.70" y1="89.25" x2="414.70" y2="89.25" stroke="#111" stroke-width="0.9" />
<line x1="684.30" y1="89.25" x2="682.30" y2="89.25" stroke="#111" stroke-width="0.9" />
<line x1="412.70" y1="82.00" x2="415.70" y2="82.00" stroke="#111" stroke-width="0.9" />
<line x1="684.30" y1="82.00" x2="681.30" y2="82.00" stroke="#111" stroke-width="0.9" />
<line x1="412.70" y1="74.75" x2="414.70" y2="74.75" stroke="#111" stroke-width="0.9" />
<line x1="684.30" y1="74.75" x2="682.30" y2="74.75" stroke="#111" stroke-width="0.9" />
<line x1="412.70" y1="67.50" x2="414.70" y2="67.50" stroke="#111" stroke-width="0.9" />
<line x1="684.30" y1="67.50" x2="682.30" y2="67.50" stroke="#111" stroke-width="0.9" />
<line x1="412.70" y1="60.25" x2="414.70" y2="60.25" stroke="#111" stroke-width="0.9" />
<line x1="684.30" y1="60.25" x2="682.30" y2="60.25" stroke="#111" stroke-width="0.9" />
<line x1="412.70" y1="53.00" x2="414.70" y2="53.00" stroke="#111" stroke-width="0.9" />
<line x1="684.30" y1="53.00" x2="682.30" y2="53.00" stroke="#111" stroke-width="0.9" />
<line x1="412.70" y1="45.75" x2="415.70" y2="45.75" stroke="#111" stroke-width="0.9" />
<line x1="684.30" y1="45.75" x2="681.30" y2="45.75" stroke="#111" stroke-width="0.9" />
<line x1="412.70" y1="38.50" x2="414.70" y2="38.50" stroke="#111" stroke-width="0.9" />
<line x1="684.30" y1="38.50" x2="682.30" y2="38.50" stroke="#111" stroke-width="0.9" />
<line x1="412.70" y1="31.25" x2="414.70" y2="31.25" stroke="#111" stroke-width="0.9" />
<line x1="684.30" y1="31.25" x2="682.30" y2="31.25" stroke="#111" stroke-width="0.9" />
<line x1="412.70" y1="24.00" x2="414.70" y2="24.00" stroke="#111" stroke-width="0.9" />
<line x1="684.30" y1="24.00" x2="682.30" y2="24.00" stroke="#111" stroke-width="0.9" />
<line x1="412.70" y1="16.75" x2="414.70" y2="16.75" stroke="#111" stroke-width="0.9" />
<line x1="684.30" y1="16.75" x2="682.30" y2="16.75" stroke="#111" stroke-width="0.9" />
<line x1="412.70" y1="9.50" x2="415.70" y2="9.50" stroke="#111" stroke-width="0.9" />
<line x1="684.30" y1="9.50" x2="681.30" y2="9.50" stroke="#111" stroke-width="0.9" />
<text x="447.20" y="193.30" font-family="Liberation Sans, sans-serif" font-size="8.5" font-weight="bold" font-style="normal" text-anchor="middle" >−2</text>
<text x="505.20" y="193.30" font-family="Liberation Sans, sans-serif" font-size="8.5" font-weight="bold" font-style="normal" text-anchor="middle" >0</text>
<text x="563.20" y="193.30" font-family="Liberation Sans, sans-serif" font-size="8.5" font-weight="bold" font-style="normal" text-anchor="middle" >2</text>
<text x="621.20" y="193.30" font-family="Liberation Sans, sans-serif" font-size="8.5" font-weight="bold" font-style="normal" text-anchor="middle" >4</text>
<text x="679.20" y="193.30" font-family="Liberation Sans, sans-serif" font-size="8.5" font-weight="bold" font-style="normal" text-anchor="middle" >6</text>
<text x="409.80" y="12.70" font-family="Liberation Sans, sans-serif" font-size="8.5" font-weight="bold" font-style="normal" text-anchor="end" >1</text>
<text x="409.80" y="48.95" font-family="Liberation Sans, sans-serif" font-size="8.5" font-weight="bold" font-style="normal" text-anchor="end" >0</text>
<text x="409.80" y="85.20" font-family="Liberation Sans, sans-serif" font-size="8.5" font-weight="bold" font-style="normal" text-anchor="end" >−1</text>
<text x="409.80" y="121.45" font-family="Liberation Sans, sans-serif" font-size="8.5" font-weight="bold" font-style="normal" text-anchor="end" >−2</text>
<text x="409.80" y="157.70" font-family="Liberation Sans, sans-serif" font-size="8.5" font-weight="bold" font-style="normal" text-anchor="end" >−3</text>
<text x="548.80" y="209.90" font-family="Liberation Sans, sans-serif" font-size="8.8" font-weight="bold" font-style="italic" text-anchor="middle" >z</text>
<text transform="translate(393.9,98.0) rotate(-90)" font-family="Liberation Sans, sans-serif" font-size="9" font-weight="bold" font-style="italic">u<tspan font-size="7" dy="0.7" font-style="normal">13</tspan></text>
<rect x="591.3" y="103.7" width="77.8" height="64.5" rx="3.6" fill="none" stroke="#222" stroke-width="1.2"/>
<line x1="599" y1="116.6" x2="632" y2="116.6" stroke="#0000ff" stroke-width="1.3" stroke-dasharray="1.8 1"/>
<circle cx="615.60" cy="116.60" r="2.6" fill="#0000ff"/>
<text x="637.80" y="120.00" font-family="Liberation Sans, sans-serif" font-size="9.5" font-weight="bold" font-style="normal" text-anchor="start" >t=0.1</text>
<line x1="599" y1="135.4" x2="632" y2="135.4" stroke="#ff0000" stroke-width="1.3" stroke-dasharray="3 1.5 1 1.5"/>
<rect x="614.0" y="133.4" width="3.7" height="3.7" fill="#ff0000"/>
<text x="637.80" y="138.80" font-family="Liberation Sans, sans-serif" font-size="9.5" font-weight="bold" font-style="normal" text-anchor="start" >t=0.2</text>
<line x1="599" y1="154.6" x2="632" y2="154.6" stroke="#00ff00" stroke-width="1.3" stroke-dasharray="3 1.5"/>
<path d="M615.60 151.90l2.7 2.7l-2.7 2.7l-2.7-2.7z" fill="#00ff00"/>
<text x="637.80" y="158.00" font-family="Liberation Sans, sans-serif" font-size="9.5" font-weight="bold" font-style="normal" text-anchor="start" >t=0.3</text></g>
<g fill="#000"><text x="150.9" y="235.7" font-family="Liberation Serif, serif" font-size="19.3" textLength="91.9" lengthAdjust="spacing">(a) 3D plot</text>
<text x="442.7" y="235.7" font-family="Liberation Serif, serif" font-size="19.3" textLength="92.8" lengthAdjust="spacing">(b) 2D plot</text></g>
</svg>
</body></html>
